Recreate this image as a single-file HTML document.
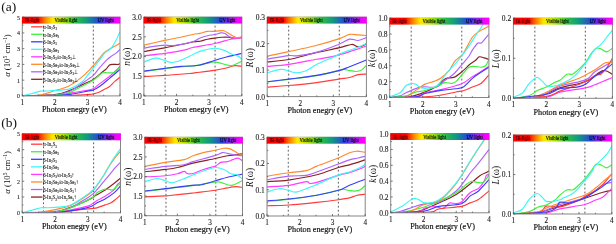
<!DOCTYPE html>
<html><head><meta charset="utf-8"><style>
html,body{margin:0;padding:0;background:#fff;}
svg{display:block;filter:blur(0.35px);font-family:"Liberation Serif",serif;}
</style></head><body>
<svg width="616" height="244" viewBox="0 0 616 244">
<rect width="616" height="244" fill="#fff"/>
<defs><linearGradient id="spec" x1="0" x2="1" y1="0" y2="0"><stop offset="0" stop-color="#ff0000"/><stop offset="0.16" stop-color="#ff0000"/><stop offset="0.23" stop-color="#ff7a00"/><stop offset="0.31" stop-color="#ffea00"/><stop offset="0.42" stop-color="#a8e000"/><stop offset="0.54" stop-color="#30c040"/><stop offset="0.66" stop-color="#109a80"/><stop offset="0.79" stop-color="#2a40e0"/><stop offset="0.89" stop-color="#a020f0"/><stop offset="0.97" stop-color="#ff00ff"/><stop offset="1" stop-color="#ff00ff"/></linearGradient></defs>
<line x1="43.47" y1="23.60" x2="43.47" y2="95.90" stroke="#5a5a5a" stroke-width="1.0" stroke-dasharray="1.8,2.2" stroke-dashoffset="-2.1"/>
<line x1="93.30" y1="23.60" x2="93.30" y2="95.90" stroke="#5a5a5a" stroke-width="1.0" stroke-dasharray="1.8,2.2" stroke-dashoffset="-2.1"/>
<clipPath id="ca1"><rect x="22.30" y="16.20" width="97.70" height="79.70"/></clipPath>
<g clip-path="url(#ca1)">
<path d="M22.30,95.90 C27.73,95.69 46.94,95.56 54.87,94.64 C62.79,93.72 65.34,92.02 69.85,90.39 C74.35,88.76 77.99,86.72 81.90,84.88 C85.81,83.05 89.93,81.47 93.30,79.37 C96.66,77.27 99.92,74.05 102.09,72.29 C104.26,70.53 105.07,70.06 106.32,68.83 C107.57,67.59 108.38,65.63 109.58,64.89 C110.77,64.16 112.02,64.50 113.49,64.42 C114.95,64.34 117.29,64.55 118.37,64.42 C119.46,64.29 119.73,63.76 120.00,63.63" fill="none" stroke="#8a2222" stroke-width="1.15" stroke-linejoin="round"/>
<path d="M22.30,95.90 C27.73,95.74 46.94,95.74 54.87,94.96 C62.79,94.17 65.29,93.12 69.85,91.18 C74.41,89.24 78.31,85.93 82.22,83.31 C86.13,80.68 90.64,77.77 93.30,75.44 C95.95,73.10 96.01,71.82 98.18,69.30 C100.35,66.78 104.15,62.50 106.32,60.33 C108.49,58.15 109.58,57.44 111.21,56.24 C112.84,55.03 114.63,54.24 116.09,53.09 C117.56,51.93 119.35,49.94 120.00,49.31" fill="none" stroke="#ad63ff" stroke-width="1.15" stroke-linejoin="round"/>
<path d="M22.30,95.90 C27.73,95.77 46.94,95.59 54.87,95.11 C62.79,94.64 64.42,93.88 69.85,93.07 C75.28,92.25 83.53,90.94 87.43,90.23 C91.34,89.53 91.34,89.84 93.30,88.82 C95.25,87.79 96.44,86.19 99.16,84.09 C101.87,82.00 106.10,79.16 109.58,76.23 C113.05,73.29 118.26,68.09 120.00,66.47" fill="none" stroke="#ff3cff" stroke-width="1.15" stroke-linejoin="round"/>
<path d="M22.30,95.90 C27.73,95.90 46.94,95.95 54.87,95.90 C62.79,95.85 64.04,95.85 69.85,95.59 C75.66,95.32 85.80,94.61 89.71,94.33 C93.62,94.04 91.67,94.25 93.30,93.85 C94.92,93.46 97.64,92.73 99.48,91.97 C101.33,91.20 102.69,90.21 104.37,89.29 C106.05,88.37 107.84,87.77 109.58,86.46 C111.32,85.14 113.05,82.97 114.79,81.42 C116.53,79.87 119.13,77.88 120.00,77.17" fill="none" stroke="#ff3b3b" stroke-width="1.15" stroke-linejoin="round"/>
<path d="M22.30,95.90 C27.73,95.77 46.94,95.69 54.87,95.11 C62.79,94.54 65.34,93.93 69.85,92.44 C74.35,90.94 77.99,88.19 81.90,86.14 C85.81,84.09 89.93,82.34 93.30,80.16 C96.66,77.98 99.81,74.31 102.09,73.08 C104.37,71.84 105.07,72.81 106.97,72.76 C108.87,72.71 111.86,73.10 113.49,72.76 C115.11,72.42 115.66,71.71 116.74,70.72 C117.83,69.72 119.46,67.44 120.00,66.78" fill="none" stroke="#3ef03e" stroke-width="1.15" stroke-linejoin="round"/>
<path d="M22.30,95.90 C25.01,95.85 33.48,96.37 38.58,95.59 C43.69,94.80 48.03,92.70 52.91,91.18 C57.80,89.66 63.39,88.55 67.89,86.46 C72.40,84.36 76.25,81.45 79.94,78.59 C83.63,75.73 86.73,72.74 90.04,69.30 C93.35,65.86 97.37,60.83 99.81,57.97 C102.25,55.11 102.79,53.80 104.69,52.14 C106.59,50.49 108.66,49.55 111.21,48.05 C113.76,46.56 118.53,43.98 120.00,43.17" fill="none" stroke="#ff8a2a" stroke-width="1.15" stroke-linejoin="round"/>
<path d="M22.30,95.90 C27.73,95.85 46.94,95.85 54.87,95.59 C62.79,95.32 64.42,95.06 69.85,94.33 C75.28,93.59 83.53,91.91 87.43,91.18 C91.34,90.44 91.29,90.71 93.30,89.92 C95.30,89.13 96.82,88.34 99.48,86.46 C102.14,84.57 105.83,81.42 109.25,78.59 C112.67,75.75 118.21,70.98 120.00,69.46" fill="none" stroke="#3c3cff" stroke-width="1.15" stroke-linejoin="round"/>
<path d="M22.30,95.90 C23.93,95.51 29.08,94.33 32.07,93.54 C35.06,92.75 38.04,91.57 40.21,91.18 C42.38,90.78 43.47,91.26 45.10,91.18 C46.72,91.10 47.27,90.89 49.98,90.71 C52.70,90.52 58.07,90.39 61.38,90.08 C64.69,89.76 66.43,90.15 69.85,88.82 C73.27,87.48 78.97,84.28 81.90,82.05 C84.83,79.82 85.70,77.56 87.43,75.44 C89.17,73.31 90.26,71.95 92.32,69.30 C94.38,66.65 97.75,62.24 99.81,59.54 C101.87,56.84 102.79,55.00 104.69,53.09 C106.59,51.17 109.36,50.10 111.21,48.05 C113.05,46.00 114.30,43.54 115.77,40.81 C117.23,38.08 119.29,33.20 120.00,31.68" fill="none" stroke="#3ef5f5" stroke-width="1.15" stroke-linejoin="round"/>
</g>
<rect x="22.30" y="17.20" width="97.70" height="78.70" fill="none" stroke="#858585" stroke-width="1.0"/>
<rect x="22.00" y="16.80" width="98.30" height="6.800000000000001" fill="url(#spec)"/>
<text transform="translate(24.80,22.30) scale(0.8,1)" font-size="5.8" fill="#400" stroke="#400" stroke-width="0.12">IR-light</text>
<text transform="translate(54.54,22.30) scale(0.8,1)" font-size="5.8" fill="#000" stroke="#000" stroke-width="0.12">Visible light</text>
<text transform="translate(97.53,22.30) scale(0.8,1)" font-size="5.8" fill="#000" stroke="#000" stroke-width="0.12">UV light</text>
<line x1="22.30" y1="95.90" x2="22.30" y2="93.90" stroke="#555" stroke-width="0.8"/>
<line x1="38.58" y1="95.90" x2="38.58" y2="94.70" stroke="#555" stroke-width="0.8"/>
<line x1="54.87" y1="95.90" x2="54.87" y2="93.90" stroke="#555" stroke-width="0.8"/>
<line x1="71.15" y1="95.90" x2="71.15" y2="94.70" stroke="#555" stroke-width="0.8"/>
<line x1="87.43" y1="95.90" x2="87.43" y2="93.90" stroke="#555" stroke-width="0.8"/>
<line x1="103.72" y1="95.90" x2="103.72" y2="94.70" stroke="#555" stroke-width="0.8"/>
<line x1="120.00" y1="95.90" x2="120.00" y2="93.90" stroke="#555" stroke-width="0.8"/>
<line x1="22.30" y1="95.90" x2="24.30" y2="95.90" stroke="#555" stroke-width="0.8"/>
<text x="20.10" y="98.30" font-size="6.0" text-anchor="end" fill="#1a1a1a" stroke="#1a1a1a" stroke-width="0.1">0</text>
<line x1="22.30" y1="88.03" x2="23.50" y2="88.03" stroke="#555" stroke-width="0.8"/>
<line x1="22.30" y1="80.16" x2="24.30" y2="80.16" stroke="#555" stroke-width="0.8"/>
<text x="20.10" y="82.56" font-size="6.0" text-anchor="end" fill="#1a1a1a" stroke="#1a1a1a" stroke-width="0.1">1</text>
<line x1="22.30" y1="72.29" x2="23.50" y2="72.29" stroke="#555" stroke-width="0.8"/>
<line x1="22.30" y1="64.42" x2="24.30" y2="64.42" stroke="#555" stroke-width="0.8"/>
<text x="20.10" y="66.82" font-size="6.0" text-anchor="end" fill="#1a1a1a" stroke="#1a1a1a" stroke-width="0.1">2</text>
<line x1="22.30" y1="56.55" x2="23.50" y2="56.55" stroke="#555" stroke-width="0.8"/>
<line x1="22.30" y1="48.68" x2="24.30" y2="48.68" stroke="#555" stroke-width="0.8"/>
<text x="20.10" y="51.08" font-size="6.0" text-anchor="end" fill="#1a1a1a" stroke="#1a1a1a" stroke-width="0.1">3</text>
<line x1="22.30" y1="40.81" x2="23.50" y2="40.81" stroke="#555" stroke-width="0.8"/>
<line x1="22.30" y1="32.94" x2="24.30" y2="32.94" stroke="#555" stroke-width="0.8"/>
<text x="20.10" y="35.34" font-size="6.0" text-anchor="end" fill="#1a1a1a" stroke="#1a1a1a" stroke-width="0.1">4</text>
<line x1="22.30" y1="25.07" x2="23.50" y2="25.07" stroke="#555" stroke-width="0.8"/>
<line x1="22.30" y1="17.20" x2="24.30" y2="17.20" stroke="#555" stroke-width="0.8"/>
<text x="20.10" y="19.60" font-size="6.0" text-anchor="end" fill="#1a1a1a" stroke="#1a1a1a" stroke-width="0.1">5</text>
<text x="22.30" y="104.90" font-size="7.2" text-anchor="middle" fill="#1a1a1a" stroke="#1a1a1a" stroke-width="0.1">1</text>
<text x="54.87" y="104.90" font-size="7.2" text-anchor="middle" fill="#1a1a1a" stroke="#1a1a1a" stroke-width="0.1">2</text>
<text x="87.43" y="104.90" font-size="7.2" text-anchor="middle" fill="#1a1a1a" stroke="#1a1a1a" stroke-width="0.1">3</text>
<text x="120.00" y="104.90" font-size="7.2" text-anchor="middle" fill="#1a1a1a" stroke="#1a1a1a" stroke-width="0.1">4</text>
<text x="74.35" y="112.30" font-size="8.2" text-anchor="middle" fill="#111" stroke="#111" stroke-width="0.18">Photon enegry (eV)</text>
<text transform="translate(10.40,55.55) rotate(-90)" font-size="8.7" text-anchor="middle" fill="#111"><tspan font-style="italic">α</tspan> (10<tspan font-size="5.5" dy="-3.3">5</tspan><tspan dy="3.3"> cm</tspan><tspan font-size="5.5" dy="-3.3">−1</tspan><tspan dy="3.3">)</tspan></text>
<line x1="165.11" y1="23.60" x2="165.11" y2="95.90" stroke="#5a5a5a" stroke-width="1.0" stroke-dasharray="1.8,2.2" stroke-dashoffset="-2.1"/>
<line x1="215.04" y1="23.60" x2="215.04" y2="95.90" stroke="#5a5a5a" stroke-width="1.0" stroke-dasharray="1.8,2.2" stroke-dashoffset="-2.1"/>
<clipPath id="ca2"><rect x="143.90" y="16.20" width="97.90" height="79.70"/></clipPath>
<g clip-path="url(#ca2)">
<path d="M143.90,51.43 C147.38,50.84 156.63,49.47 164.79,47.89 C172.94,46.32 186.98,43.11 192.85,41.99 C198.72,40.88 197.58,41.66 200.03,41.20 C202.48,40.74 205.09,39.76 207.54,39.24 C209.98,38.71 212.32,38.38 214.71,38.06 C217.11,37.73 219.61,37.40 221.89,37.27 C224.18,37.14 226.73,37.14 228.42,37.27 C230.11,37.40 230.60,37.86 232.01,38.06 C233.42,38.25 235.27,38.58 236.91,38.45 C238.54,38.32 240.98,37.47 241.80,37.27" fill="none" stroke="#8a2222" stroke-width="1.15" stroke-linejoin="round"/>
<path d="M143.90,48.29 C145.53,47.96 150.21,46.84 153.69,46.32 C157.17,45.79 161.52,45.27 164.79,45.14 C168.05,45.01 168.76,46.06 173.27,45.53 C177.78,45.01 187.41,43.24 191.87,41.99 C196.33,40.74 197.42,39.10 200.03,38.06 C202.64,37.01 205.09,36.28 207.54,35.69 C209.98,35.10 212.48,34.97 214.71,34.51 C216.94,34.05 219.28,33.14 220.91,32.94 C222.55,32.74 223.04,32.68 224.50,33.33 C225.97,33.99 228.04,36.09 229.73,36.88 C231.41,37.66 233.15,37.92 234.62,38.06 C236.09,38.19 237.34,37.79 238.54,37.66 C239.73,37.53 241.26,37.33 241.80,37.27" fill="none" stroke="#ad63ff" stroke-width="1.15" stroke-linejoin="round"/>
<path d="M143.90,55.76 C147.38,55.37 157.93,54.39 164.79,53.40 C171.64,52.42 180.34,50.84 185.02,49.86 C189.70,48.88 187.90,48.55 192.85,47.50 C197.80,46.45 208.41,44.94 214.71,43.56 C221.02,42.19 226.19,40.15 230.70,39.24 C235.22,38.32 239.95,38.25 241.80,38.06" fill="none" stroke="#ff3cff" stroke-width="1.15" stroke-linejoin="round"/>
<path d="M143.90,76.62 C147.38,76.42 160.43,75.70 164.79,75.44 C169.14,75.18 165.87,75.37 170.01,75.04 C174.14,74.72 185.24,73.86 189.59,73.47 C193.94,73.08 191.98,73.21 196.11,72.68 C200.25,72.16 209.33,71.11 214.39,70.32 C219.45,69.54 223.04,68.75 226.46,67.96 C229.89,67.17 232.39,65.86 234.95,65.60 C237.50,65.34 240.66,66.26 241.80,66.39" fill="none" stroke="#ff3b3b" stroke-width="1.15" stroke-linejoin="round"/>
<path d="M143.90,71.50 C147.38,71.04 158.59,69.54 164.79,68.75 C170.99,67.96 176.42,67.24 181.10,66.78 C185.78,66.32 188.17,66.65 192.85,65.99 C197.53,65.34 205.31,63.50 209.17,62.85 C213.03,62.19 213.14,61.73 216.02,62.06 C218.90,62.39 223.80,64.22 226.46,64.81 C229.13,65.40 229.45,66.19 232.01,65.60 C234.57,65.01 240.17,61.99 241.80,61.27" fill="none" stroke="#3ef03e" stroke-width="1.15" stroke-linejoin="round"/>
<path d="M143.90,45.14 C147.38,44.35 159.35,41.60 164.79,40.42 C170.22,39.24 171.86,39.04 176.53,38.06 C181.21,37.07 188.93,35.30 192.85,34.51 C196.77,33.73 197.58,33.86 200.03,33.33 C202.48,32.81 205.09,31.69 207.54,31.37 C209.98,31.04 212.32,31.50 214.71,31.37 C217.11,31.23 220.26,30.64 221.89,30.58 C223.53,30.51 223.20,30.38 224.50,30.97 C225.81,31.56 228.04,33.14 229.73,34.12 C231.41,35.10 233.42,36.28 234.62,36.88 C235.82,37.47 235.71,37.66 236.91,37.66 C238.10,37.66 240.98,37.01 241.80,36.88" fill="none" stroke="#ff8a2a" stroke-width="1.15" stroke-linejoin="round"/>
<path d="M143.90,71.11 C147.38,70.65 158.59,69.14 164.79,68.36 C170.99,67.57 175.45,66.91 181.10,66.39 C186.76,65.86 193.18,66.19 198.72,65.21 C204.27,64.22 209.76,61.86 214.39,60.49 C219.01,59.11 221.89,58.12 226.46,56.94 C231.03,55.76 239.24,53.99 241.80,53.40" fill="none" stroke="#3c3cff" stroke-width="1.15" stroke-linejoin="round"/>
<path d="M143.90,62.06 C145.86,61.40 152.22,58.39 155.65,58.12 C159.07,57.86 161.74,59.76 164.46,60.49 C167.18,61.21 169.03,62.58 171.96,62.45 C174.90,62.32 178.49,61.08 182.08,59.70 C185.67,58.32 190.13,55.70 193.50,54.19 C196.87,52.68 198.83,51.63 202.31,50.65 C205.79,49.66 210.91,48.42 214.39,48.29 C217.87,48.16 220.26,48.88 223.20,49.86 C226.14,50.84 229.40,53.07 232.01,54.19 C234.62,55.30 237.23,55.63 238.86,56.55 C240.49,57.47 241.31,59.17 241.80,59.70" fill="none" stroke="#3ef5f5" stroke-width="1.15" stroke-linejoin="round"/>
</g>
<rect x="143.90" y="17.20" width="97.90" height="78.70" fill="none" stroke="#858585" stroke-width="1.0"/>
<rect x="143.60" y="16.80" width="98.50" height="6.800000000000001" fill="url(#spec)"/>
<text transform="translate(146.40,22.30) scale(0.8,1)" font-size="5.8" fill="#400" stroke="#400" stroke-width="0.12">IR-light</text>
<text transform="translate(176.21,22.30) scale(0.8,1)" font-size="5.8" fill="#000" stroke="#000" stroke-width="0.12">Visible light</text>
<text transform="translate(219.28,22.30) scale(0.8,1)" font-size="5.8" fill="#000" stroke="#000" stroke-width="0.12">UV light</text>
<line x1="143.90" y1="95.90" x2="143.90" y2="93.90" stroke="#555" stroke-width="0.8"/>
<line x1="160.22" y1="95.90" x2="160.22" y2="94.70" stroke="#555" stroke-width="0.8"/>
<line x1="176.53" y1="95.90" x2="176.53" y2="93.90" stroke="#555" stroke-width="0.8"/>
<line x1="192.85" y1="95.90" x2="192.85" y2="94.70" stroke="#555" stroke-width="0.8"/>
<line x1="209.17" y1="95.90" x2="209.17" y2="93.90" stroke="#555" stroke-width="0.8"/>
<line x1="225.48" y1="95.90" x2="225.48" y2="94.70" stroke="#555" stroke-width="0.8"/>
<line x1="241.80" y1="95.90" x2="241.80" y2="93.90" stroke="#555" stroke-width="0.8"/>
<line x1="143.90" y1="95.90" x2="145.90" y2="95.90" stroke="#555" stroke-width="0.8"/>
<text x="141.70" y="98.83" font-size="7.5" text-anchor="end" fill="#1a1a1a" stroke="#1a1a1a" stroke-width="0.1">1.0</text>
<line x1="143.90" y1="86.06" x2="145.10" y2="86.06" stroke="#555" stroke-width="0.8"/>
<line x1="143.90" y1="76.23" x2="145.90" y2="76.23" stroke="#555" stroke-width="0.8"/>
<text x="141.70" y="79.15" font-size="7.5" text-anchor="end" fill="#1a1a1a" stroke="#1a1a1a" stroke-width="0.1">1.5</text>
<line x1="143.90" y1="66.39" x2="145.10" y2="66.39" stroke="#555" stroke-width="0.8"/>
<line x1="143.90" y1="56.55" x2="145.90" y2="56.55" stroke="#555" stroke-width="0.8"/>
<text x="141.70" y="59.48" font-size="7.5" text-anchor="end" fill="#1a1a1a" stroke="#1a1a1a" stroke-width="0.1">2.0</text>
<line x1="143.90" y1="46.71" x2="145.10" y2="46.71" stroke="#555" stroke-width="0.8"/>
<line x1="143.90" y1="36.88" x2="145.90" y2="36.88" stroke="#555" stroke-width="0.8"/>
<text x="141.70" y="39.80" font-size="7.5" text-anchor="end" fill="#1a1a1a" stroke="#1a1a1a" stroke-width="0.1">2.5</text>
<line x1="143.90" y1="27.04" x2="145.10" y2="27.04" stroke="#555" stroke-width="0.8"/>
<line x1="143.90" y1="17.20" x2="145.90" y2="17.20" stroke="#555" stroke-width="0.8"/>
<text x="141.70" y="20.13" font-size="7.5" text-anchor="end" fill="#1a1a1a" stroke="#1a1a1a" stroke-width="0.1">3.0</text>
<text x="143.90" y="104.90" font-size="7.2" text-anchor="middle" fill="#1a1a1a" stroke="#1a1a1a" stroke-width="0.1">1</text>
<text x="176.53" y="104.90" font-size="7.2" text-anchor="middle" fill="#1a1a1a" stroke="#1a1a1a" stroke-width="0.1">2</text>
<text x="209.17" y="104.90" font-size="7.2" text-anchor="middle" fill="#1a1a1a" stroke="#1a1a1a" stroke-width="0.1">3</text>
<text x="241.80" y="104.90" font-size="7.2" text-anchor="middle" fill="#1a1a1a" stroke="#1a1a1a" stroke-width="0.1">4</text>
<text x="196.25" y="112.30" font-size="8.2" text-anchor="middle" fill="#111" stroke="#111" stroke-width="0.18">Photon enegry (eV)</text>
<text transform="translate(129.60,56.75) rotate(-90)" font-size="9.5" text-anchor="middle" fill="#111"><tspan font-style="italic">n</tspan><tspan dx="0.9">(ω)</tspan></text>
<line x1="288.69" y1="23.60" x2="288.69" y2="96.60" stroke="#5a5a5a" stroke-width="1.0" stroke-dasharray="1.8,2.2" stroke-dashoffset="-2.1"/>
<line x1="339.29" y1="23.60" x2="339.29" y2="96.60" stroke="#5a5a5a" stroke-width="1.0" stroke-dasharray="1.8,2.2" stroke-dashoffset="-2.1"/>
<clipPath id="ca3"><rect x="267.20" y="16.20" width="99.20" height="80.40"/></clipPath>
<g clip-path="url(#ca3)">
<path d="M267.20,61.93 C270.78,61.53 280.70,61.05 288.69,59.55 C296.68,58.05 306.82,54.87 315.15,52.93 C323.47,50.99 332.56,49.31 338.62,47.90 C344.69,46.49 348.54,44.73 351.52,44.46 C354.50,44.20 354.83,46.00 356.48,46.31 C358.13,46.62 359.79,46.75 361.44,46.31 C363.09,45.87 365.57,44.11 366.40,43.67" fill="none" stroke="#8a2222" stroke-width="1.15" stroke-linejoin="round"/>
<path d="M267.20,59.02 C270.78,58.44 283.73,56.11 288.69,55.58 C293.65,55.05 292.55,56.33 296.96,55.84 C301.37,55.36 308.20,54.56 315.15,52.67 C322.09,50.77 332.89,46.71 338.62,44.46 C344.36,42.21 346.28,39.83 349.54,39.17 C352.79,38.51 355.32,40.76 358.13,40.49 C360.94,40.23 365.02,38.06 366.40,37.58" fill="none" stroke="#ad63ff" stroke-width="1.15" stroke-linejoin="round"/>
<path d="M267.20,66.43 C270.78,66.08 280.48,65.50 288.69,64.31 C296.90,63.12 309.03,60.61 316.47,59.28 C323.91,57.96 327.77,57.65 333.33,56.37 C338.90,55.09 344.36,53.33 349.87,51.61 C355.38,49.89 363.64,46.97 366.40,46.05" fill="none" stroke="#ff3cff" stroke-width="1.15" stroke-linejoin="round"/>
<path d="M267.20,87.07 C270.78,86.81 280.48,86.23 288.69,85.48 C296.90,84.73 308.15,83.63 316.47,82.57 C324.79,81.51 333.11,79.97 338.62,79.13 C344.14,78.29 346.28,78.29 349.54,77.54 C352.79,76.79 355.32,75.21 358.13,74.63 C360.94,74.06 365.02,74.19 366.40,74.10" fill="none" stroke="#ff3b3b" stroke-width="1.15" stroke-linejoin="round"/>
<path d="M267.20,82.04 C270.78,81.60 280.48,80.46 288.69,79.40 C296.90,78.34 308.15,77.15 316.47,75.69 C324.79,74.24 333.99,71.72 338.62,70.66 C343.25,69.60 342.43,69.34 344.25,69.34 C346.06,69.34 347.50,70.31 349.54,70.66 C351.58,71.02 354.50,71.54 356.48,71.46 C358.46,71.37 359.79,71.15 361.44,70.13 C363.09,69.12 365.57,66.16 366.40,65.37" fill="none" stroke="#3ef03e" stroke-width="1.15" stroke-linejoin="round"/>
<path d="M267.20,56.11 C270.78,55.36 280.70,53.33 288.69,51.61 C296.68,49.89 306.82,47.90 315.15,45.78 C323.47,43.67 332.89,40.80 338.62,38.90 C344.36,37.01 346.28,35.07 349.54,34.40 C352.79,33.74 355.32,34.76 358.13,34.93 C360.94,35.11 365.02,35.37 366.40,35.46" fill="none" stroke="#ff8a2a" stroke-width="1.15" stroke-linejoin="round"/>
<path d="M267.20,81.78 C270.78,81.34 280.48,80.19 288.69,79.13 C296.90,78.07 308.15,76.84 316.47,75.43 C324.79,74.02 333.11,72.12 338.62,70.66 C344.14,69.21 344.91,68.46 349.54,66.69 C354.17,64.93 363.59,61.18 366.40,60.08" fill="none" stroke="#3c3cff" stroke-width="1.15" stroke-linejoin="round"/>
<path d="M267.20,72.78 C269.46,72.21 277.18,69.65 280.76,69.34 C284.34,69.03 286.16,70.35 288.69,70.93 C291.23,71.50 293.05,72.82 295.97,72.78 C298.89,72.74 302.80,72.03 306.22,70.66 C309.64,69.30 311.56,67.00 316.47,64.58 C321.37,62.15 331.96,57.83 335.65,56.11 C339.34,54.39 335.70,55.44 338.62,54.25 C341.54,53.06 348.54,50.72 353.17,48.96 C357.80,47.20 364.20,44.55 366.40,43.67" fill="none" stroke="#3ef5f5" stroke-width="1.15" stroke-linejoin="round"/>
</g>
<rect x="267.20" y="17.20" width="99.20" height="79.40" fill="none" stroke="#858585" stroke-width="1.0"/>
<rect x="266.90" y="16.80" width="99.80" height="6.800000000000001" fill="url(#spec)"/>
<text transform="translate(269.70,22.30) scale(0.8,1)" font-size="5.8" fill="#400" stroke="#400" stroke-width="0.12">IR-light</text>
<text transform="translate(299.94,22.30) scale(0.8,1)" font-size="5.8" fill="#000" stroke="#000" stroke-width="0.12">Visible light</text>
<text transform="translate(343.58,22.30) scale(0.8,1)" font-size="5.8" fill="#000" stroke="#000" stroke-width="0.12">UV light</text>
<line x1="267.20" y1="96.60" x2="267.20" y2="94.60" stroke="#555" stroke-width="0.8"/>
<line x1="283.73" y1="96.60" x2="283.73" y2="95.40" stroke="#555" stroke-width="0.8"/>
<line x1="300.27" y1="96.60" x2="300.27" y2="94.60" stroke="#555" stroke-width="0.8"/>
<line x1="316.80" y1="96.60" x2="316.80" y2="95.40" stroke="#555" stroke-width="0.8"/>
<line x1="333.33" y1="96.60" x2="333.33" y2="94.60" stroke="#555" stroke-width="0.8"/>
<line x1="349.87" y1="96.60" x2="349.87" y2="95.40" stroke="#555" stroke-width="0.8"/>
<line x1="366.40" y1="96.60" x2="366.40" y2="94.60" stroke="#555" stroke-width="0.8"/>
<line x1="267.20" y1="96.60" x2="269.20" y2="96.60" stroke="#555" stroke-width="0.8"/>
<text x="265.00" y="99.52" font-size="7.5" text-anchor="end" fill="#1a1a1a" stroke="#1a1a1a" stroke-width="0.1">0.0</text>
<line x1="267.20" y1="83.37" x2="268.40" y2="83.37" stroke="#555" stroke-width="0.8"/>
<line x1="267.20" y1="70.13" x2="269.20" y2="70.13" stroke="#555" stroke-width="0.8"/>
<text x="265.00" y="73.06" font-size="7.5" text-anchor="end" fill="#1a1a1a" stroke="#1a1a1a" stroke-width="0.1">0.1</text>
<line x1="267.20" y1="56.90" x2="268.40" y2="56.90" stroke="#555" stroke-width="0.8"/>
<line x1="267.20" y1="43.67" x2="269.20" y2="43.67" stroke="#555" stroke-width="0.8"/>
<text x="265.00" y="46.59" font-size="7.5" text-anchor="end" fill="#1a1a1a" stroke="#1a1a1a" stroke-width="0.1">0.2</text>
<line x1="267.20" y1="30.43" x2="268.40" y2="30.43" stroke="#555" stroke-width="0.8"/>
<line x1="267.20" y1="17.20" x2="269.20" y2="17.20" stroke="#555" stroke-width="0.8"/>
<text x="265.00" y="20.13" font-size="7.5" text-anchor="end" fill="#1a1a1a" stroke="#1a1a1a" stroke-width="0.1">0.3</text>
<text x="267.20" y="105.60" font-size="7.2" text-anchor="middle" fill="#1a1a1a" stroke="#1a1a1a" stroke-width="0.1">1</text>
<text x="300.27" y="105.60" font-size="7.2" text-anchor="middle" fill="#1a1a1a" stroke="#1a1a1a" stroke-width="0.1">2</text>
<text x="333.33" y="105.60" font-size="7.2" text-anchor="middle" fill="#1a1a1a" stroke="#1a1a1a" stroke-width="0.1">3</text>
<text x="366.40" y="105.60" font-size="7.2" text-anchor="middle" fill="#1a1a1a" stroke="#1a1a1a" stroke-width="0.1">4</text>
<text x="319.85" y="113.00" font-size="8.2" text-anchor="middle" fill="#111" stroke="#111" stroke-width="0.18">Photon enegry (eV)</text>
<text transform="translate(252.90,57.80) rotate(-90)" font-size="9.5" text-anchor="middle" fill="#111"><tspan font-style="italic">R</tspan><tspan dx="0.9">(ω)</tspan></text>
<line x1="411.19" y1="24.60" x2="411.19" y2="97.50" stroke="#5a5a5a" stroke-width="1.0" stroke-dasharray="1.8,2.2" stroke-dashoffset="-2.1"/>
<line x1="461.79" y1="24.60" x2="461.79" y2="97.50" stroke="#5a5a5a" stroke-width="1.0" stroke-dasharray="1.8,2.2" stroke-dashoffset="-2.1"/>
<clipPath id="ca4"><rect x="389.70" y="17.20" width="99.20" height="80.30"/></clipPath>
<g clip-path="url(#ca4)">
<path d="M389.70,97.50 C393.01,97.37 403.64,97.63 409.54,96.71 C415.44,95.78 420.40,93.79 425.08,91.95 C429.77,90.11 434.28,87.89 437.65,85.68 C441.01,83.48 442.44,80.13 445.25,78.71 C448.06,77.28 451.42,78.55 454.51,77.12 C457.60,75.69 461.34,72.16 463.77,70.14 C466.19,68.12 467.08,66.63 469.06,64.99 C471.04,63.35 473.96,61.67 475.67,60.31 C477.38,58.95 477.88,57.23 479.31,56.82 C480.74,56.41 482.67,57.41 484.27,57.85 C485.87,58.29 488.13,59.17 488.90,59.44" fill="none" stroke="#8a2222" stroke-width="1.15" stroke-linejoin="round"/>
<path d="M389.70,97.50 C391.41,97.24 397.25,96.71 399.95,95.91 C402.65,95.12 402.93,94.09 405.90,92.74 C408.88,91.39 414.67,88.82 417.81,87.83 C420.95,86.83 422.49,86.89 424.75,86.79 C427.01,86.70 429.16,87.34 431.36,87.27 C433.57,87.20 435.66,87.57 437.98,86.40 C440.29,85.22 442.50,82.41 445.25,80.21 C448.01,78.02 451.64,75.96 454.51,73.23 C457.38,70.51 460.02,66.74 462.45,63.88 C464.87,61.01 467.41,58.33 469.06,56.03 C470.71,53.73 470.93,52.22 472.37,50.08 C473.80,47.94 476.11,44.40 477.66,43.18 C479.20,41.96 479.75,44.30 481.63,42.78 C483.50,41.26 487.69,35.51 488.90,34.06" fill="none" stroke="#ad63ff" stroke-width="1.15" stroke-linejoin="round"/>
<path d="M389.70,97.50 C394.11,97.37 410.26,97.50 416.15,96.71 C422.05,95.91 420.95,93.93 425.08,92.74 C429.21,91.55 435.83,90.75 440.95,89.57 C446.08,88.39 452.03,86.81 455.83,85.68 C459.64,84.56 461.01,84.34 463.77,82.83 C466.52,81.32 469.50,78.53 472.37,76.64 C475.23,74.75 478.21,73.21 480.96,71.49 C483.72,69.77 487.58,67.19 488.90,66.34" fill="none" stroke="#ff3cff" stroke-width="1.15" stroke-linejoin="round"/>
<path d="M389.70,97.50 C395.60,97.37 416.54,97.10 425.08,96.71 C433.62,96.31 435.83,95.91 440.95,95.12 C446.08,94.33 452.03,92.72 455.83,91.95 C459.64,91.18 461.01,91.34 463.77,90.52 C466.52,89.70 469.50,88.20 472.37,87.03 C475.23,85.87 478.21,85.57 480.96,83.54 C483.72,81.52 487.58,76.34 488.90,74.90" fill="none" stroke="#ff3b3b" stroke-width="1.15" stroke-linejoin="round"/>
<path d="M389.70,97.50 C392.46,97.24 401.82,96.84 406.23,95.91 C410.64,94.99 413.01,92.85 416.15,91.95 C419.29,91.05 421.50,91.57 425.08,90.52 C428.66,89.48 434.28,87.01 437.65,85.68 C441.01,84.36 442.99,82.97 445.25,82.59 C447.51,82.21 449.44,83.54 451.20,83.38 C452.97,83.23 453.74,83.45 455.83,81.64 C457.93,79.83 461.56,74.93 463.77,72.52 C465.97,70.12 467.35,68.24 469.06,67.21 C470.77,66.18 472.04,66.34 474.02,66.34 C476.00,66.34 479.04,67.30 480.96,67.21 C482.89,67.11 484.27,67.08 485.59,65.78 C486.92,64.48 488.35,60.49 488.90,59.44" fill="none" stroke="#3ef03e" stroke-width="1.15" stroke-linejoin="round"/>
<path d="M389.70,97.50 C392.18,97.43 401.00,97.76 404.58,97.10 C408.16,96.44 408.55,95.19 411.19,93.53 C413.84,91.88 418.14,88.76 420.45,87.19 C422.77,85.62 422.66,85.13 425.08,84.10 C427.51,83.07 432.36,82.04 435.00,81.01 C437.65,79.97 438.64,79.59 440.95,77.91 C443.27,76.23 446.63,73.66 448.89,70.93 C451.15,68.21 452.58,64.02 454.51,61.58 C456.44,59.13 458.92,57.74 460.46,56.26 C462.01,54.78 461.79,55.87 463.77,52.70 C465.75,49.52 469.78,40.81 472.37,37.23 C474.96,33.65 477.60,32.50 479.31,31.21 C481.02,29.91 481.02,30.31 482.62,29.46 C484.22,28.61 487.85,26.69 488.90,26.13" fill="none" stroke="#ff8a2a" stroke-width="1.15" stroke-linejoin="round"/>
<path d="M389.70,97.50 C394.11,97.37 410.26,97.37 416.15,96.71 C422.05,96.05 420.95,94.59 425.08,93.53 C429.21,92.48 435.83,91.16 440.95,90.36 C446.08,89.57 452.03,89.40 455.83,88.78 C459.64,88.16 461.01,88.37 463.77,86.64 C466.52,84.90 469.50,80.77 472.37,78.39 C475.23,76.01 478.21,74.23 480.96,72.36 C483.72,70.50 487.58,68.07 488.90,67.21" fill="none" stroke="#3c3cff" stroke-width="1.15" stroke-linejoin="round"/>
<path d="M389.70,96.71 C391.41,96.05 397.25,94.57 399.95,92.74 C402.65,90.92 404.03,87.28 405.90,85.76 C407.78,84.24 409.54,83.86 411.19,83.62 C412.85,83.38 414.39,83.72 415.82,84.34 C417.26,84.96 418.47,86.69 419.79,87.35 C421.11,88.01 422.16,88.20 423.76,88.30 C425.36,88.41 427.62,88.17 429.38,87.98 C431.14,87.80 432.69,87.96 434.34,87.19 C435.99,86.42 437.48,85.45 439.30,83.38 C441.12,81.32 442.99,77.67 445.25,74.82 C447.51,71.97 450.65,68.73 452.86,66.26 C455.06,63.78 455.78,63.40 458.48,59.99 C461.18,56.58 466.19,49.88 469.06,45.80 C471.93,41.71 473.41,38.92 475.67,35.49 C477.93,32.05 481.07,27.66 482.62,25.18 C484.16,22.69 484.38,21.74 484.93,20.58 C485.48,19.42 485.76,18.60 485.92,18.20" fill="none" stroke="#3ef5f5" stroke-width="1.15" stroke-linejoin="round"/>
</g>
<rect x="389.70" y="18.20" width="99.20" height="79.30" fill="none" stroke="#858585" stroke-width="1.0"/>
<rect x="389.40" y="17.80" width="99.80" height="6.800000000000001" fill="url(#spec)"/>
<text transform="translate(392.20,23.30) scale(0.8,1)" font-size="5.8" fill="#400" stroke="#400" stroke-width="0.12">IR-light</text>
<text transform="translate(422.44,23.30) scale(0.8,1)" font-size="5.8" fill="#000" stroke="#000" stroke-width="0.12">Visible light</text>
<text transform="translate(466.08,23.30) scale(0.8,1)" font-size="5.8" fill="#000" stroke="#000" stroke-width="0.12">UV light</text>
<line x1="389.70" y1="97.50" x2="389.70" y2="95.50" stroke="#555" stroke-width="0.8"/>
<line x1="406.23" y1="97.50" x2="406.23" y2="96.30" stroke="#555" stroke-width="0.8"/>
<line x1="422.77" y1="97.50" x2="422.77" y2="95.50" stroke="#555" stroke-width="0.8"/>
<line x1="439.30" y1="97.50" x2="439.30" y2="96.30" stroke="#555" stroke-width="0.8"/>
<line x1="455.83" y1="97.50" x2="455.83" y2="95.50" stroke="#555" stroke-width="0.8"/>
<line x1="472.37" y1="97.50" x2="472.37" y2="96.30" stroke="#555" stroke-width="0.8"/>
<line x1="488.90" y1="97.50" x2="488.90" y2="95.50" stroke="#555" stroke-width="0.8"/>
<line x1="389.70" y1="97.50" x2="391.70" y2="97.50" stroke="#555" stroke-width="0.8"/>
<text x="387.50" y="100.42" font-size="7.5" text-anchor="end" fill="#1a1a1a" stroke="#1a1a1a" stroke-width="0.1">0.0</text>
<line x1="389.70" y1="89.57" x2="390.90" y2="89.57" stroke="#555" stroke-width="0.8"/>
<line x1="389.70" y1="81.64" x2="391.70" y2="81.64" stroke="#555" stroke-width="0.8"/>
<text x="387.50" y="84.56" font-size="7.5" text-anchor="end" fill="#1a1a1a" stroke="#1a1a1a" stroke-width="0.1">0.2</text>
<line x1="389.70" y1="73.71" x2="390.90" y2="73.71" stroke="#555" stroke-width="0.8"/>
<line x1="389.70" y1="65.78" x2="391.70" y2="65.78" stroke="#555" stroke-width="0.8"/>
<text x="387.50" y="68.70" font-size="7.5" text-anchor="end" fill="#1a1a1a" stroke="#1a1a1a" stroke-width="0.1">0.4</text>
<line x1="389.70" y1="57.85" x2="390.90" y2="57.85" stroke="#555" stroke-width="0.8"/>
<line x1="389.70" y1="49.92" x2="391.70" y2="49.92" stroke="#555" stroke-width="0.8"/>
<text x="387.50" y="52.84" font-size="7.5" text-anchor="end" fill="#1a1a1a" stroke="#1a1a1a" stroke-width="0.1">0.6</text>
<line x1="389.70" y1="41.99" x2="390.90" y2="41.99" stroke="#555" stroke-width="0.8"/>
<line x1="389.70" y1="34.06" x2="391.70" y2="34.06" stroke="#555" stroke-width="0.8"/>
<text x="387.50" y="36.98" font-size="7.5" text-anchor="end" fill="#1a1a1a" stroke="#1a1a1a" stroke-width="0.1">0.8</text>
<line x1="389.70" y1="26.13" x2="390.90" y2="26.13" stroke="#555" stroke-width="0.8"/>
<line x1="389.70" y1="18.20" x2="391.70" y2="18.20" stroke="#555" stroke-width="0.8"/>
<text x="387.50" y="21.13" font-size="7.5" text-anchor="end" fill="#1a1a1a" stroke="#1a1a1a" stroke-width="0.1">1.0</text>
<text x="389.70" y="106.50" font-size="7.2" text-anchor="middle" fill="#1a1a1a" stroke="#1a1a1a" stroke-width="0.1">1</text>
<text x="422.77" y="106.50" font-size="7.2" text-anchor="middle" fill="#1a1a1a" stroke="#1a1a1a" stroke-width="0.1">2</text>
<text x="455.83" y="106.50" font-size="7.2" text-anchor="middle" fill="#1a1a1a" stroke="#1a1a1a" stroke-width="0.1">3</text>
<text x="488.90" y="106.50" font-size="7.2" text-anchor="middle" fill="#1a1a1a" stroke="#1a1a1a" stroke-width="0.1">4</text>
<text x="442.15" y="113.90" font-size="8.2" text-anchor="middle" fill="#111" stroke="#111" stroke-width="0.18">Photon enegry (eV)</text>
<text transform="translate(375.40,58.45) rotate(-90)" font-size="9.5" text-anchor="middle" fill="#111"><tspan font-style="italic">k</tspan><tspan dx="0.9">(ω)</tspan></text>
<line x1="534.85" y1="24.60" x2="534.85" y2="98.30" stroke="#5a5a5a" stroke-width="1.0" stroke-dasharray="1.8,2.2" stroke-dashoffset="-2.1"/>
<line x1="585.34" y1="24.60" x2="585.34" y2="98.30" stroke="#5a5a5a" stroke-width="1.0" stroke-dasharray="1.8,2.2" stroke-dashoffset="-2.1"/>
<clipPath id="ca5"><rect x="513.40" y="17.20" width="99.00" height="81.10"/></clipPath>
<g clip-path="url(#ca5)">
<path d="M513.40,98.30 C517.80,97.97 532.04,98.03 539.80,96.30 C547.55,94.56 552.28,90.36 559.93,87.89 C567.57,85.42 578.52,84.35 585.67,81.48 C592.82,78.61 598.37,71.87 602.83,70.67 C607.28,69.46 610.80,73.67 612.40,74.27" fill="none" stroke="#8a2222" stroke-width="1.15" stroke-linejoin="round"/>
<path d="M513.40,98.30 C517.80,97.97 532.04,98.30 539.80,96.30 C547.55,94.30 552.28,89.02 559.93,86.28 C567.57,83.55 579.95,82.21 585.67,79.88 C591.39,77.54 591.39,74.40 594.25,72.27 C597.11,70.13 599.80,68.86 602.83,67.06 C605.85,65.26 610.80,62.39 612.40,61.45" fill="none" stroke="#ad63ff" stroke-width="1.15" stroke-linejoin="round"/>
<path d="M513.40,98.30 C518.90,98.10 538.64,98.10 546.40,97.10 C554.15,96.10 553.38,93.83 559.93,92.29 C566.47,90.76 579.95,89.09 585.67,87.89 C591.39,86.69 591.39,86.15 594.25,85.08 C597.11,84.02 599.80,82.75 602.83,81.48 C605.85,80.21 610.80,78.14 612.40,77.47" fill="none" stroke="#ff3cff" stroke-width="1.15" stroke-linejoin="round"/>
<path d="M513.40,98.30 C518.90,97.97 538.64,97.50 546.40,96.30 C554.15,95.10 554.81,92.96 559.93,91.09 C565.04,89.22 572.80,86.69 577.09,85.08 C581.38,83.48 582.48,83.15 585.67,81.48 C588.86,79.81 593.70,76.27 596.23,75.07 C598.76,73.87 599.14,75.40 600.85,74.27 C602.56,73.14 604.53,70.93 606.46,68.26 C608.38,65.59 611.41,59.92 612.40,58.25" fill="none" stroke="#ff3b3b" stroke-width="1.15" stroke-linejoin="round"/>
<path d="M513.40,98.30 C516.04,97.83 525.17,96.83 529.24,95.50 C533.31,94.16 534.96,91.69 537.82,90.29 C540.68,88.89 543.54,88.42 546.40,87.09 C549.26,85.75 552.73,83.41 554.98,82.28 C557.24,81.15 557.95,81.61 559.93,80.28 C561.91,78.94 564.83,75.27 566.86,74.27 C568.89,73.27 570.43,74.87 572.14,74.27 C573.85,73.67 574.84,72.67 577.09,70.67 C579.35,68.66 583.41,64.99 585.67,62.26 C587.92,59.52 588.86,56.58 590.62,54.25 C592.38,51.91 594.47,49.11 596.23,48.24 C597.99,47.37 599.47,48.44 601.18,49.04 C602.88,49.64 604.59,51.98 606.46,51.84 C608.33,51.71 611.41,48.84 612.40,48.24" fill="none" stroke="#3ef03e" stroke-width="1.15" stroke-linejoin="round"/>
<path d="M513.40,98.30 C516.70,98.10 527.70,98.10 533.20,97.10 C538.70,96.10 541.94,94.30 546.40,92.29 C550.86,90.29 554.81,87.29 559.93,85.08 C565.04,82.88 572.80,80.74 577.09,79.08 C581.38,77.41 582.48,76.74 585.67,75.07 C588.86,73.40 593.04,71.07 596.23,69.06 C599.42,67.06 602.50,64.19 604.81,63.06 C607.12,61.92 608.82,62.26 610.09,62.26 C611.35,62.26 612.01,62.92 612.40,63.06" fill="none" stroke="#ff8a2a" stroke-width="1.15" stroke-linejoin="round"/>
<path d="M513.40,98.30 C518.90,97.63 538.64,95.90 546.40,94.30 C554.15,92.69 554.81,89.89 559.93,88.69 C565.04,87.49 572.80,87.82 577.09,87.09 C581.38,86.35 582.81,86.02 585.67,84.28 C588.53,82.55 591.39,78.81 594.25,76.67 C597.11,74.54 599.80,73.60 602.83,71.47 C605.85,69.33 610.80,65.13 612.40,63.86" fill="none" stroke="#3c3cff" stroke-width="1.15" stroke-linejoin="round"/>
<path d="M513.40,97.10 C514.88,96.43 519.67,95.36 522.31,93.09 C524.95,90.82 526.82,86.08 529.24,83.48 C531.66,80.88 534.68,77.87 536.83,77.47 C538.97,77.07 540.51,79.74 542.11,81.08 C543.71,82.41 544.53,84.62 546.40,85.48 C548.27,86.35 550.47,86.75 553.33,86.28 C556.19,85.82 560.15,84.28 563.56,82.68 C566.97,81.08 570.11,79.94 573.79,76.67 C577.47,73.40 582.26,67.46 585.67,63.06 C589.08,58.65 591.66,53.38 594.25,50.24 C596.84,47.10 598.87,46.70 601.18,44.23 C603.49,41.76 606.24,37.76 608.11,35.42 C609.98,33.09 611.68,31.08 612.40,30.22" fill="none" stroke="#3ef5f5" stroke-width="1.15" stroke-linejoin="round"/>
</g>
<rect x="513.40" y="18.20" width="99.00" height="80.10" fill="none" stroke="#858585" stroke-width="1.0"/>
<rect x="513.10" y="17.80" width="99.60" height="6.800000000000001" fill="url(#spec)"/>
<text transform="translate(515.90,23.30) scale(0.8,1)" font-size="5.8" fill="#400" stroke="#400" stroke-width="0.12">IR-light</text>
<text transform="translate(546.07,23.30) scale(0.8,1)" font-size="5.8" fill="#000" stroke="#000" stroke-width="0.12">Visible light</text>
<text transform="translate(589.63,23.30) scale(0.8,1)" font-size="5.8" fill="#000" stroke="#000" stroke-width="0.12">UV light</text>
<line x1="513.40" y1="98.30" x2="513.40" y2="96.30" stroke="#555" stroke-width="0.8"/>
<line x1="529.90" y1="98.30" x2="529.90" y2="97.10" stroke="#555" stroke-width="0.8"/>
<line x1="546.40" y1="98.30" x2="546.40" y2="96.30" stroke="#555" stroke-width="0.8"/>
<line x1="562.90" y1="98.30" x2="562.90" y2="97.10" stroke="#555" stroke-width="0.8"/>
<line x1="579.40" y1="98.30" x2="579.40" y2="96.30" stroke="#555" stroke-width="0.8"/>
<line x1="595.90" y1="98.30" x2="595.90" y2="97.10" stroke="#555" stroke-width="0.8"/>
<line x1="612.40" y1="98.30" x2="612.40" y2="96.30" stroke="#555" stroke-width="0.8"/>
<line x1="513.40" y1="98.30" x2="515.40" y2="98.30" stroke="#555" stroke-width="0.8"/>
<text x="511.20" y="101.22" font-size="7.5" text-anchor="end" fill="#1a1a1a" stroke="#1a1a1a" stroke-width="0.1">0.0</text>
<line x1="513.40" y1="78.28" x2="514.60" y2="78.28" stroke="#555" stroke-width="0.8"/>
<line x1="513.40" y1="58.25" x2="515.40" y2="58.25" stroke="#555" stroke-width="0.8"/>
<text x="511.20" y="61.17" font-size="7.5" text-anchor="end" fill="#1a1a1a" stroke="#1a1a1a" stroke-width="0.1">0.1</text>
<line x1="513.40" y1="38.23" x2="514.60" y2="38.23" stroke="#555" stroke-width="0.8"/>
<line x1="513.40" y1="18.20" x2="515.40" y2="18.20" stroke="#555" stroke-width="0.8"/>
<text x="511.20" y="21.13" font-size="7.5" text-anchor="end" fill="#1a1a1a" stroke="#1a1a1a" stroke-width="0.1">0.2</text>
<text x="513.40" y="107.30" font-size="7.2" text-anchor="middle" fill="#1a1a1a" stroke="#1a1a1a" stroke-width="0.1">1</text>
<text x="546.40" y="107.30" font-size="7.2" text-anchor="middle" fill="#1a1a1a" stroke="#1a1a1a" stroke-width="0.1">2</text>
<text x="579.40" y="107.30" font-size="7.2" text-anchor="middle" fill="#1a1a1a" stroke="#1a1a1a" stroke-width="0.1">3</text>
<text x="612.40" y="107.30" font-size="7.2" text-anchor="middle" fill="#1a1a1a" stroke="#1a1a1a" stroke-width="0.1">4</text>
<text x="565.85" y="114.70" font-size="8.2" text-anchor="middle" fill="#111" stroke="#111" stroke-width="0.18">Photon enegry (eV)</text>
<text transform="translate(499.10,58.85) rotate(-90)" font-size="9.5" text-anchor="middle" fill="#111"><tspan font-style="italic">L</tspan><tspan dx="0.9">(ω)</tspan></text>
<line x1="43.50" y1="140.30" x2="43.50" y2="212.80" stroke="#5a5a5a" stroke-width="1.0" stroke-dasharray="1.8,2.2" stroke-dashoffset="-2.1"/>
<line x1="93.63" y1="140.30" x2="93.63" y2="212.80" stroke="#5a5a5a" stroke-width="1.0" stroke-dasharray="1.8,2.2" stroke-dashoffset="-2.1"/>
<clipPath id="cb1"><rect x="22.20" y="132.90" width="98.30" height="79.90"/></clipPath>
<g clip-path="url(#cb1)">
<path d="M22.20,212.80 C27.66,212.64 46.99,212.75 54.97,211.85 C62.94,210.96 65.12,209.12 70.04,207.43 C74.95,205.75 80.63,203.44 84.46,201.75 C88.28,200.07 91.06,198.41 92.98,197.34 C94.89,196.26 93.90,196.52 95.92,195.28 C97.95,194.05 102.10,191.89 105.10,189.92 C108.10,187.95 111.38,185.42 113.95,183.45 C116.51,181.48 119.41,178.98 120.50,178.08" fill="none" stroke="#8a2222" stroke-width="1.15" stroke-linejoin="round"/>
<path d="M22.20,212.80 C27.66,212.59 46.99,212.33 54.97,211.54 C62.94,210.75 65.51,209.83 70.04,208.07 C74.57,206.30 78.34,203.33 82.16,200.97 C85.99,198.60 89.32,197.18 92.98,193.86 C96.63,190.55 101.28,184.37 104.12,181.08 C106.96,177.79 108.16,176.37 110.01,174.14 C111.87,171.90 113.51,169.64 115.26,167.67 C117.00,165.70 119.63,163.20 120.50,162.30" fill="none" stroke="#ad63ff" stroke-width="1.15" stroke-linejoin="round"/>
<path d="M22.20,212.80 C27.66,212.69 46.99,212.64 54.97,212.17 C62.94,211.70 64.58,210.96 70.04,209.96 C75.50,208.96 83.91,207.28 87.73,206.17 C91.56,205.07 91.34,204.33 92.98,203.33 C94.61,202.33 95.54,201.36 97.56,200.18 C99.58,198.99 102.37,197.94 105.10,196.23 C107.83,194.52 111.87,191.89 113.95,189.92 C116.02,187.95 116.46,185.71 117.55,184.40 C118.64,183.08 120.01,182.42 120.50,182.03" fill="none" stroke="#ff3cff" stroke-width="1.15" stroke-linejoin="round"/>
<path d="M22.20,212.80 C27.66,212.80 46.99,213.12 54.97,212.80 C62.94,212.48 63.70,211.64 70.04,210.91 C76.37,210.17 88.39,208.93 92.98,208.38 C97.56,207.83 95.54,208.17 97.56,207.59 C99.58,207.01 102.92,205.67 105.10,204.91 C107.28,204.15 108.92,203.94 110.67,203.02 C112.42,202.10 113.95,200.73 115.59,199.39 C117.22,198.05 119.68,195.71 120.50,194.97" fill="none" stroke="#ff3b3b" stroke-width="1.15" stroke-linejoin="round"/>
<path d="M22.20,212.80 C27.66,212.67 46.99,212.80 54.97,212.01 C62.94,211.22 65.12,209.78 70.04,208.07 C74.95,206.36 80.63,203.60 84.46,201.75 C88.28,199.91 90.79,198.60 92.98,197.02 C95.16,195.44 95.98,193.47 97.56,192.29 C99.15,191.10 100.95,190.47 102.48,189.92 C104.01,189.37 105.10,188.97 106.74,188.97 C108.38,188.97 110.78,190.23 112.31,189.92 C113.84,189.60 114.55,188.13 115.91,187.08 C117.28,186.03 119.74,184.19 120.50,183.61" fill="none" stroke="#3ef03e" stroke-width="1.15" stroke-linejoin="round"/>
<path d="M22.20,212.80 C24.93,212.75 33.12,213.01 38.58,212.48 C44.04,211.96 49.72,210.77 54.97,209.64 C60.21,208.51 65.67,207.41 70.04,205.70 C74.41,203.99 77.36,201.89 81.18,199.39 C85.00,196.89 89.21,194.73 92.98,190.71 C96.74,186.68 101.60,178.53 103.79,175.24 C105.97,171.96 104.39,173.67 106.08,170.98 C107.78,168.30 111.54,162.44 113.95,159.15 C116.35,155.86 119.41,152.57 120.50,151.26" fill="none" stroke="#ff8a2a" stroke-width="1.15" stroke-linejoin="round"/>
<path d="M22.20,212.80 C27.66,212.75 46.99,212.80 54.97,212.48 C62.94,212.17 64.58,211.72 70.04,210.91 C75.50,210.09 83.91,208.49 87.73,207.59 C91.56,206.70 91.34,206.38 92.98,205.54 C94.61,204.70 95.54,203.65 97.56,202.54 C99.58,201.44 102.37,200.52 105.10,198.91 C107.83,197.31 111.38,195.07 113.95,192.92 C116.51,190.76 119.41,187.13 120.50,185.97" fill="none" stroke="#3c3cff" stroke-width="1.15" stroke-linejoin="round"/>
<path d="M22.20,212.80 C23.95,212.33 29.52,210.80 32.69,209.96 C35.85,209.12 38.58,208.12 41.20,207.75 C43.83,207.38 45.52,207.86 48.41,207.75 C51.31,207.65 54.97,207.54 58.57,207.12 C62.18,206.70 66.33,206.59 70.04,205.23 C73.75,203.86 77.03,201.46 80.85,198.91 C84.68,196.36 89.37,193.55 92.98,189.92 C96.58,186.29 100.29,180.16 102.48,177.14 C104.66,174.11 104.55,174.38 106.08,171.77 C107.61,169.17 109.25,165.38 111.65,161.52 C114.06,157.65 119.03,150.73 120.50,148.58" fill="none" stroke="#3ef5f5" stroke-width="1.15" stroke-linejoin="round"/>
</g>
<rect x="22.20" y="133.90" width="98.30" height="78.90" fill="none" stroke="#858585" stroke-width="1.0"/>
<rect x="21.90" y="133.50" width="98.90" height="6.800000000000001" fill="url(#spec)"/>
<text transform="translate(24.70,139.00) scale(0.8,1)" font-size="5.8" fill="#400" stroke="#400" stroke-width="0.12">IR-light</text>
<text transform="translate(54.64,139.00) scale(0.8,1)" font-size="5.8" fill="#000" stroke="#000" stroke-width="0.12">Visible light</text>
<text transform="translate(97.89,139.00) scale(0.8,1)" font-size="5.8" fill="#000" stroke="#000" stroke-width="0.12">UV light</text>
<line x1="22.20" y1="212.80" x2="22.20" y2="210.80" stroke="#555" stroke-width="0.8"/>
<line x1="38.58" y1="212.80" x2="38.58" y2="211.60" stroke="#555" stroke-width="0.8"/>
<line x1="54.97" y1="212.80" x2="54.97" y2="210.80" stroke="#555" stroke-width="0.8"/>
<line x1="71.35" y1="212.80" x2="71.35" y2="211.60" stroke="#555" stroke-width="0.8"/>
<line x1="87.73" y1="212.80" x2="87.73" y2="210.80" stroke="#555" stroke-width="0.8"/>
<line x1="104.12" y1="212.80" x2="104.12" y2="211.60" stroke="#555" stroke-width="0.8"/>
<line x1="120.50" y1="212.80" x2="120.50" y2="210.80" stroke="#555" stroke-width="0.8"/>
<line x1="22.20" y1="212.80" x2="24.20" y2="212.80" stroke="#555" stroke-width="0.8"/>
<text x="20.00" y="215.20" font-size="6.0" text-anchor="end" fill="#1a1a1a" stroke="#1a1a1a" stroke-width="0.1">0</text>
<line x1="22.20" y1="204.91" x2="23.40" y2="204.91" stroke="#555" stroke-width="0.8"/>
<line x1="22.20" y1="197.02" x2="24.20" y2="197.02" stroke="#555" stroke-width="0.8"/>
<text x="20.00" y="199.42" font-size="6.0" text-anchor="end" fill="#1a1a1a" stroke="#1a1a1a" stroke-width="0.1">1</text>
<line x1="22.20" y1="189.13" x2="23.40" y2="189.13" stroke="#555" stroke-width="0.8"/>
<line x1="22.20" y1="181.24" x2="24.20" y2="181.24" stroke="#555" stroke-width="0.8"/>
<text x="20.00" y="183.64" font-size="6.0" text-anchor="end" fill="#1a1a1a" stroke="#1a1a1a" stroke-width="0.1">2</text>
<line x1="22.20" y1="173.35" x2="23.40" y2="173.35" stroke="#555" stroke-width="0.8"/>
<line x1="22.20" y1="165.46" x2="24.20" y2="165.46" stroke="#555" stroke-width="0.8"/>
<text x="20.00" y="167.86" font-size="6.0" text-anchor="end" fill="#1a1a1a" stroke="#1a1a1a" stroke-width="0.1">3</text>
<line x1="22.20" y1="157.57" x2="23.40" y2="157.57" stroke="#555" stroke-width="0.8"/>
<line x1="22.20" y1="149.68" x2="24.20" y2="149.68" stroke="#555" stroke-width="0.8"/>
<text x="20.00" y="152.08" font-size="6.0" text-anchor="end" fill="#1a1a1a" stroke="#1a1a1a" stroke-width="0.1">4</text>
<line x1="22.20" y1="141.79" x2="23.40" y2="141.79" stroke="#555" stroke-width="0.8"/>
<line x1="22.20" y1="133.90" x2="24.20" y2="133.90" stroke="#555" stroke-width="0.8"/>
<text x="20.00" y="136.30" font-size="6.0" text-anchor="end" fill="#1a1a1a" stroke="#1a1a1a" stroke-width="0.1">5</text>
<text x="22.20" y="221.80" font-size="7.2" text-anchor="middle" fill="#1a1a1a" stroke="#1a1a1a" stroke-width="0.1">1</text>
<text x="54.97" y="221.80" font-size="7.2" text-anchor="middle" fill="#1a1a1a" stroke="#1a1a1a" stroke-width="0.1">2</text>
<text x="87.73" y="221.80" font-size="7.2" text-anchor="middle" fill="#1a1a1a" stroke="#1a1a1a" stroke-width="0.1">3</text>
<text x="120.50" y="221.80" font-size="7.2" text-anchor="middle" fill="#1a1a1a" stroke="#1a1a1a" stroke-width="0.1">4</text>
<text x="74.35" y="229.20" font-size="8.2" text-anchor="middle" fill="#111" stroke="#111" stroke-width="0.18">Photon enegry (eV)</text>
<text transform="translate(10.30,172.35) rotate(-90)" font-size="8.7" text-anchor="middle" fill="#111"><tspan font-style="italic">α</tspan> (10<tspan font-size="5.5" dy="-3.3">5</tspan><tspan dy="3.3"> cm</tspan><tspan font-size="5.5" dy="-3.3">−1</tspan><tspan dy="3.3">)</tspan></text>
<line x1="165.97" y1="143.70" x2="165.97" y2="215.70" stroke="#5a5a5a" stroke-width="1.0" stroke-dasharray="1.8,2.2" stroke-dashoffset="-2.1"/>
<line x1="215.80" y1="143.70" x2="215.80" y2="215.70" stroke="#5a5a5a" stroke-width="1.0" stroke-dasharray="1.8,2.2" stroke-dashoffset="-2.1"/>
<clipPath id="cb2"><rect x="144.80" y="136.30" width="97.70" height="79.40"/></clipPath>
<g clip-path="url(#cb2)">
<path d="M144.80,171.80 C148.22,171.40 159.89,170.16 165.32,169.44 C170.74,168.73 172.75,168.53 177.37,167.48 C181.98,166.44 186.65,164.67 193.00,163.17 C199.35,161.67 209.72,159.71 215.47,158.47 C221.22,157.23 223.77,156.38 227.52,155.72 C231.26,155.07 235.44,154.87 237.94,154.55 C240.44,154.22 241.74,153.89 242.50,153.76" fill="none" stroke="#8a2222" stroke-width="1.15" stroke-linejoin="round"/>
<path d="M144.80,169.44 C148.22,168.92 158.80,167.09 165.32,166.31 C171.83,165.52 179.27,165.52 183.88,164.74 C188.49,163.96 187.73,163.17 193.00,161.60 C198.26,160.04 210.58,156.83 215.47,155.33 C220.35,153.83 220.30,152.91 222.31,152.59 C224.32,152.26 225.51,152.98 227.52,153.37 C229.53,153.76 231.86,154.55 234.36,154.94 C236.86,155.33 241.14,155.59 242.50,155.72" fill="none" stroke="#ad63ff" stroke-width="1.15" stroke-linejoin="round"/>
<path d="M144.80,176.89 C148.22,176.70 159.89,176.24 165.32,175.72 C170.74,175.19 174.22,174.47 177.37,173.76 C180.51,173.04 182.47,171.40 184.21,171.40 C185.94,171.40 186.05,173.49 187.79,173.76 C189.52,174.02 192.02,173.69 194.63,172.97 C197.23,172.25 199.95,170.62 203.42,169.44 C206.89,168.27 212.59,167.09 215.47,165.92 C218.35,164.74 218.67,163.11 220.68,162.39 C222.69,161.67 225.51,162.06 227.52,161.60 C229.53,161.15 230.99,160.23 232.73,159.64 C234.47,159.06 236.31,157.88 237.94,158.08 C239.57,158.27 241.74,160.36 242.50,160.82" fill="none" stroke="#ff3cff" stroke-width="1.15" stroke-linejoin="round"/>
<path d="M144.80,196.88 C148.22,196.72 161.14,196.13 165.32,195.90 C169.50,195.68 165.75,195.94 169.88,195.51 C174.00,195.09 185.56,193.85 190.07,193.36 C194.57,192.87 192.67,193.09 196.91,192.57 C201.14,192.05 210.37,191.00 215.47,190.22 C220.57,189.44 224.05,188.46 227.52,187.87 C230.99,187.28 233.82,186.76 236.31,186.69 C238.81,186.63 241.47,187.35 242.50,187.48" fill="none" stroke="#ff3b3b" stroke-width="1.15" stroke-linejoin="round"/>
<path d="M144.80,191.40 C148.22,191.00 159.89,189.70 165.32,189.04 C170.74,188.39 172.48,188.06 177.37,187.48 C182.25,186.89 188.28,186.43 194.63,185.52 C200.98,184.60 211.13,182.51 215.47,181.99 C219.81,181.47 218.67,181.92 220.68,182.38 C222.69,182.84 225.51,184.27 227.52,184.73 C229.53,185.19 230.23,185.84 232.73,185.12 C235.23,184.41 240.87,181.20 242.50,180.42" fill="none" stroke="#3ef03e" stroke-width="1.15" stroke-linejoin="round"/>
<path d="M144.80,166.31 C148.22,165.65 158.75,163.50 165.32,162.39 C171.88,161.28 179.59,160.75 184.21,159.64 C188.82,158.53 189.80,156.90 193.00,155.72 C196.20,154.55 199.67,153.50 203.42,152.59 C207.17,151.67 212.05,150.95 215.47,150.24 C218.89,149.52 221.66,148.54 223.94,148.28 C226.22,148.01 227.41,148.21 229.15,148.67 C230.88,149.13 232.78,150.17 234.36,151.02 C235.93,151.87 237.24,153.11 238.59,153.76 C239.95,154.42 241.85,154.74 242.50,154.94" fill="none" stroke="#ff8a2a" stroke-width="1.15" stroke-linejoin="round"/>
<path d="M144.80,191.00 C148.22,190.61 159.89,189.31 165.32,188.65 C170.74,188.00 172.48,187.67 177.37,187.08 C182.25,186.50 190.61,185.52 194.63,185.12 C198.64,184.73 197.99,185.45 201.47,184.73 C204.94,184.01 211.13,182.05 215.47,180.81 C219.81,179.57 223.01,178.39 227.52,177.28 C232.02,176.17 240.00,174.67 242.50,174.15" fill="none" stroke="#3c3cff" stroke-width="1.15" stroke-linejoin="round"/>
<path d="M144.80,181.60 C146.81,181.07 153.43,178.59 156.85,178.46 C160.27,178.33 162.77,180.09 165.32,180.81 C167.87,181.53 169.28,183.03 172.16,182.77 C175.03,182.51 179.10,180.55 182.58,179.24 C186.05,177.94 189.52,176.30 193.00,174.93 C196.47,173.56 199.67,172.25 203.42,171.01 C207.17,169.77 212.05,167.75 215.47,167.48 C218.89,167.22 221.39,168.40 223.94,169.44 C226.49,170.49 228.71,172.91 230.78,173.76 C232.84,174.61 234.90,174.08 236.31,174.54 C237.72,175.00 238.21,175.78 239.24,176.50 C240.27,177.22 241.96,178.46 242.50,178.85" fill="none" stroke="#3ef5f5" stroke-width="1.15" stroke-linejoin="round"/>
</g>
<rect x="144.80" y="137.30" width="97.70" height="78.40" fill="none" stroke="#858585" stroke-width="1.0"/>
<rect x="144.50" y="136.90" width="98.30" height="6.800000000000001" fill="url(#spec)"/>
<text transform="translate(147.30,142.40) scale(0.8,1)" font-size="5.8" fill="#400" stroke="#400" stroke-width="0.12">IR-light</text>
<text transform="translate(177.04,142.40) scale(0.8,1)" font-size="5.8" fill="#000" stroke="#000" stroke-width="0.12">Visible light</text>
<text transform="translate(220.03,142.40) scale(0.8,1)" font-size="5.8" fill="#000" stroke="#000" stroke-width="0.12">UV light</text>
<line x1="144.80" y1="215.70" x2="144.80" y2="213.70" stroke="#555" stroke-width="0.8"/>
<line x1="161.08" y1="215.70" x2="161.08" y2="214.50" stroke="#555" stroke-width="0.8"/>
<line x1="177.37" y1="215.70" x2="177.37" y2="213.70" stroke="#555" stroke-width="0.8"/>
<line x1="193.65" y1="215.70" x2="193.65" y2="214.50" stroke="#555" stroke-width="0.8"/>
<line x1="209.93" y1="215.70" x2="209.93" y2="213.70" stroke="#555" stroke-width="0.8"/>
<line x1="226.22" y1="215.70" x2="226.22" y2="214.50" stroke="#555" stroke-width="0.8"/>
<line x1="242.50" y1="215.70" x2="242.50" y2="213.70" stroke="#555" stroke-width="0.8"/>
<line x1="144.80" y1="215.70" x2="146.80" y2="215.70" stroke="#555" stroke-width="0.8"/>
<text x="142.60" y="218.62" font-size="7.5" text-anchor="end" fill="#1a1a1a" stroke="#1a1a1a" stroke-width="0.1">1.0</text>
<line x1="144.80" y1="205.90" x2="146.00" y2="205.90" stroke="#555" stroke-width="0.8"/>
<line x1="144.80" y1="196.10" x2="146.80" y2="196.10" stroke="#555" stroke-width="0.8"/>
<text x="142.60" y="199.03" font-size="7.5" text-anchor="end" fill="#1a1a1a" stroke="#1a1a1a" stroke-width="0.1">1.5</text>
<line x1="144.80" y1="186.30" x2="146.00" y2="186.30" stroke="#555" stroke-width="0.8"/>
<line x1="144.80" y1="176.50" x2="146.80" y2="176.50" stroke="#555" stroke-width="0.8"/>
<text x="142.60" y="179.43" font-size="7.5" text-anchor="end" fill="#1a1a1a" stroke="#1a1a1a" stroke-width="0.1">2.0</text>
<line x1="144.80" y1="166.70" x2="146.00" y2="166.70" stroke="#555" stroke-width="0.8"/>
<line x1="144.80" y1="156.90" x2="146.80" y2="156.90" stroke="#555" stroke-width="0.8"/>
<text x="142.60" y="159.83" font-size="7.5" text-anchor="end" fill="#1a1a1a" stroke="#1a1a1a" stroke-width="0.1">2.5</text>
<line x1="144.80" y1="147.10" x2="146.00" y2="147.10" stroke="#555" stroke-width="0.8"/>
<line x1="144.80" y1="137.30" x2="146.80" y2="137.30" stroke="#555" stroke-width="0.8"/>
<text x="142.60" y="140.23" font-size="7.5" text-anchor="end" fill="#1a1a1a" stroke="#1a1a1a" stroke-width="0.1">3.0</text>
<text x="144.80" y="224.70" font-size="7.2" text-anchor="middle" fill="#1a1a1a" stroke="#1a1a1a" stroke-width="0.1">1</text>
<text x="177.37" y="224.70" font-size="7.2" text-anchor="middle" fill="#1a1a1a" stroke="#1a1a1a" stroke-width="0.1">2</text>
<text x="209.93" y="224.70" font-size="7.2" text-anchor="middle" fill="#1a1a1a" stroke="#1a1a1a" stroke-width="0.1">3</text>
<text x="242.50" y="224.70" font-size="7.2" text-anchor="middle" fill="#1a1a1a" stroke="#1a1a1a" stroke-width="0.1">4</text>
<text x="197.35" y="232.10" font-size="8.2" text-anchor="middle" fill="#111" stroke="#111" stroke-width="0.18">Photon enegry (eV)</text>
<text transform="translate(130.50,176.70) rotate(-90)" font-size="9.5" text-anchor="middle" fill="#111"><tspan font-style="italic">n</tspan><tspan dx="0.9">(ω)</tspan></text>
<line x1="288.28" y1="143.70" x2="288.28" y2="216.00" stroke="#5a5a5a" stroke-width="1.0" stroke-dasharray="1.8,2.2" stroke-dashoffset="-2.1"/>
<line x1="338.36" y1="143.70" x2="338.36" y2="216.00" stroke="#5a5a5a" stroke-width="1.0" stroke-dasharray="1.8,2.2" stroke-dashoffset="-2.1"/>
<clipPath id="cb3"><rect x="267.00" y="136.30" width="98.20" height="79.70"/></clipPath>
<g clip-path="url(#cb3)">
<path d="M267.00,181.63 C270.60,181.37 280.31,181.20 288.60,180.06 C296.90,178.92 308.46,176.91 316.75,174.81 C325.05,172.72 332.90,169.13 338.36,167.47 C343.81,165.81 345.01,166.11 349.49,164.84 C353.96,163.58 362.58,160.69 365.20,159.86" fill="none" stroke="#8a2222" stroke-width="1.15" stroke-linejoin="round"/>
<path d="M267.00,179.80 C270.60,179.19 282.06,176.87 288.60,176.13 C295.15,175.38 301.59,176.04 306.28,175.34 C310.97,174.64 311.41,173.81 316.75,171.93 C322.10,170.05 332.90,166.07 338.36,164.06 C343.81,162.05 346.16,160.87 349.49,159.86 C352.82,158.86 355.71,158.64 358.33,158.02 C360.94,157.41 364.05,156.49 365.20,156.19" fill="none" stroke="#ad63ff" stroke-width="1.15" stroke-linejoin="round"/>
<path d="M267.00,186.88 C270.60,186.62 282.06,186.18 288.60,185.31 C295.15,184.43 302.73,181.94 306.28,181.63 C309.83,181.33 308.13,183.34 309.88,183.47 C311.63,183.60 312.01,183.78 316.75,182.42 C321.50,181.07 332.90,176.96 338.36,175.34 C343.81,173.72 345.83,173.81 349.49,172.72 C353.14,171.62 357.67,169.87 360.29,168.78 C362.91,167.69 364.38,166.59 365.20,166.16" fill="none" stroke="#ff3cff" stroke-width="1.15" stroke-linejoin="round"/>
<path d="M267.00,205.77 C270.60,205.64 280.31,205.55 288.60,204.98 C296.90,204.41 308.46,203.23 316.75,202.36 C325.05,201.48 332.90,200.48 338.36,199.74 C343.81,198.99 346.49,198.60 349.49,197.90 C352.49,197.20 353.74,196.15 356.36,195.54 C358.98,194.93 363.73,194.44 365.20,194.23" fill="none" stroke="#ff3b3b" stroke-width="1.15" stroke-linejoin="round"/>
<path d="M267.00,201.31 C270.60,201.00 280.31,200.48 288.60,199.47 C296.90,198.47 308.46,196.81 316.75,195.28 C325.05,193.75 333.89,191.30 338.36,190.29 C342.83,189.29 341.74,189.20 343.60,189.24 C345.45,189.29 347.63,190.25 349.49,190.55 C351.34,190.86 352.92,191.21 354.73,191.08 C356.53,190.95 358.54,190.73 360.29,189.77 C362.04,188.80 364.38,186.05 365.20,185.31" fill="none" stroke="#3ef03e" stroke-width="1.15" stroke-linejoin="round"/>
<path d="M267.00,176.13 C270.60,175.56 282.06,173.63 288.60,172.72 C295.15,171.80 301.59,171.71 306.28,170.62 C310.97,169.52 311.41,168.26 316.75,166.16 C322.10,164.06 332.90,160.25 338.36,158.02 C343.81,155.79 346.49,153.91 349.49,152.78 C352.49,151.64 353.74,151.29 356.36,151.20 C358.98,151.12 363.73,152.08 365.20,152.25" fill="none" stroke="#ff8a2a" stroke-width="1.15" stroke-linejoin="round"/>
<path d="M267.00,200.78 C270.60,200.48 280.31,199.87 288.60,198.95 C296.90,198.03 308.46,196.72 316.75,195.28 C325.05,193.83 332.90,191.95 338.36,190.29 C343.81,188.63 345.01,187.14 349.49,185.31 C353.96,183.47 362.58,180.28 365.20,179.27" fill="none" stroke="#3c3cff" stroke-width="1.15" stroke-linejoin="round"/>
<path d="M267.00,192.13 C268.96,191.56 275.18,189.02 278.78,188.72 C282.38,188.41 285.77,189.72 288.60,190.29 C291.44,190.86 292.86,192.39 295.81,192.13 C298.75,191.87 303.06,189.85 306.28,188.72 C309.50,187.58 309.94,187.54 315.12,185.31 C320.30,183.08 331.65,177.57 337.38,175.34 C343.11,173.11 345.67,173.24 349.49,171.93 C353.31,170.62 357.67,168.78 360.29,167.47 C362.91,166.16 364.38,164.63 365.20,164.06" fill="none" stroke="#3ef5f5" stroke-width="1.15" stroke-linejoin="round"/>
</g>
<rect x="267.00" y="137.30" width="98.20" height="78.70" fill="none" stroke="#858585" stroke-width="1.0"/>
<rect x="266.70" y="136.90" width="98.80" height="6.800000000000001" fill="url(#spec)"/>
<text transform="translate(269.50,142.40) scale(0.8,1)" font-size="5.8" fill="#400" stroke="#400" stroke-width="0.12">IR-light</text>
<text transform="translate(299.41,142.40) scale(0.8,1)" font-size="5.8" fill="#000" stroke="#000" stroke-width="0.12">Visible light</text>
<text transform="translate(342.61,142.40) scale(0.8,1)" font-size="5.8" fill="#000" stroke="#000" stroke-width="0.12">UV light</text>
<line x1="267.00" y1="216.00" x2="267.00" y2="214.00" stroke="#555" stroke-width="0.8"/>
<line x1="283.37" y1="216.00" x2="283.37" y2="214.80" stroke="#555" stroke-width="0.8"/>
<line x1="299.73" y1="216.00" x2="299.73" y2="214.00" stroke="#555" stroke-width="0.8"/>
<line x1="316.10" y1="216.00" x2="316.10" y2="214.80" stroke="#555" stroke-width="0.8"/>
<line x1="332.47" y1="216.00" x2="332.47" y2="214.00" stroke="#555" stroke-width="0.8"/>
<line x1="348.83" y1="216.00" x2="348.83" y2="214.80" stroke="#555" stroke-width="0.8"/>
<line x1="365.20" y1="216.00" x2="365.20" y2="214.00" stroke="#555" stroke-width="0.8"/>
<line x1="267.00" y1="216.00" x2="269.00" y2="216.00" stroke="#555" stroke-width="0.8"/>
<text x="264.80" y="218.93" font-size="7.5" text-anchor="end" fill="#1a1a1a" stroke="#1a1a1a" stroke-width="0.1">0.0</text>
<line x1="267.00" y1="202.88" x2="268.20" y2="202.88" stroke="#555" stroke-width="0.8"/>
<line x1="267.00" y1="189.77" x2="269.00" y2="189.77" stroke="#555" stroke-width="0.8"/>
<text x="264.80" y="192.69" font-size="7.5" text-anchor="end" fill="#1a1a1a" stroke="#1a1a1a" stroke-width="0.1">0.1</text>
<line x1="267.00" y1="176.65" x2="268.20" y2="176.65" stroke="#555" stroke-width="0.8"/>
<line x1="267.00" y1="163.53" x2="269.00" y2="163.53" stroke="#555" stroke-width="0.8"/>
<text x="264.80" y="166.46" font-size="7.5" text-anchor="end" fill="#1a1a1a" stroke="#1a1a1a" stroke-width="0.1">0.2</text>
<line x1="267.00" y1="150.42" x2="268.20" y2="150.42" stroke="#555" stroke-width="0.8"/>
<line x1="267.00" y1="137.30" x2="269.00" y2="137.30" stroke="#555" stroke-width="0.8"/>
<text x="264.80" y="140.23" font-size="7.5" text-anchor="end" fill="#1a1a1a" stroke="#1a1a1a" stroke-width="0.1">0.3</text>
<text x="267.00" y="225.00" font-size="7.2" text-anchor="middle" fill="#1a1a1a" stroke="#1a1a1a" stroke-width="0.1">1</text>
<text x="299.73" y="225.00" font-size="7.2" text-anchor="middle" fill="#1a1a1a" stroke="#1a1a1a" stroke-width="0.1">2</text>
<text x="332.47" y="225.00" font-size="7.2" text-anchor="middle" fill="#1a1a1a" stroke="#1a1a1a" stroke-width="0.1">3</text>
<text x="365.20" y="225.00" font-size="7.2" text-anchor="middle" fill="#1a1a1a" stroke="#1a1a1a" stroke-width="0.1">4</text>
<text x="319.85" y="232.40" font-size="8.2" text-anchor="middle" fill="#111" stroke="#111" stroke-width="0.18">Photon enegry (eV)</text>
<text transform="translate(252.70,177.55) rotate(-90)" font-size="9.5" text-anchor="middle" fill="#111"><tspan font-style="italic">R</tspan><tspan dx="0.9">(ω)</tspan></text>
<line x1="412.00" y1="140.00" x2="412.00" y2="212.80" stroke="#5a5a5a" stroke-width="1.0" stroke-dasharray="1.8,2.2" stroke-dashoffset="-2.1"/>
<line x1="462.13" y1="140.00" x2="462.13" y2="212.80" stroke="#5a5a5a" stroke-width="1.0" stroke-dasharray="1.8,2.2" stroke-dashoffset="-2.1"/>
<clipPath id="cb4"><rect x="390.70" y="132.60" width="98.30" height="80.20"/></clipPath>
<g clip-path="url(#cb4)">
<path d="M390.70,212.80 C394.52,212.67 408.18,212.54 413.64,212.01 C419.10,211.48 419.26,211.15 423.47,209.63 C427.67,208.11 433.41,205.43 438.87,202.90 C444.33,200.37 451.05,197.57 456.23,194.43 C461.42,191.28 466.01,187.22 470.00,184.05 C473.98,180.88 477.53,177.29 480.15,175.42 C482.77,173.54 484.25,173.57 485.72,172.80 C487.20,172.04 488.45,171.15 489.00,170.82" fill="none" stroke="#8a2222" stroke-width="1.15" stroke-linejoin="round"/>
<path d="M390.70,212.80 C392.34,212.54 396.87,212.14 400.53,211.22 C404.19,210.29 408.83,208.44 412.65,207.26 C416.48,206.07 419.10,204.95 423.47,204.09 C427.84,203.23 433.41,204.30 438.87,202.11 C444.33,199.92 451.92,194.53 456.23,190.94 C460.55,187.35 462.30,183.72 464.75,180.57 C467.21,177.41 468.96,174.60 470.98,172.01 C473.00,169.42 474.75,167.64 476.88,165.04 C479.01,162.44 481.74,159.01 483.76,156.41 C485.78,153.81 488.13,150.60 489.00,149.44" fill="none" stroke="#ad63ff" stroke-width="1.15" stroke-linejoin="round"/>
<path d="M390.70,212.80 C395.07,212.67 411.18,212.80 416.91,212.01 C422.65,211.22 422.10,209.01 425.10,208.05 C428.11,207.08 432.26,206.16 434.94,206.23 C437.61,206.29 439.47,208.27 441.16,208.44 C442.85,208.62 443.67,208.17 445.09,207.26 C446.51,206.35 447.82,203.57 449.68,202.98 C451.54,202.39 454.21,203.90 456.23,203.69 C458.25,203.48 459.51,203.55 461.80,201.71 C464.10,199.88 467.21,194.90 470.00,192.68 C472.78,190.47 476.22,190.20 478.51,188.41 C480.81,186.61 482.45,184.08 483.76,181.91 C485.07,179.75 485.50,176.65 486.38,175.42 C487.25,174.19 488.56,174.69 489.00,174.55" fill="none" stroke="#ff3cff" stroke-width="1.15" stroke-linejoin="round"/>
<path d="M390.70,212.80 C397.25,212.67 421.99,212.64 430.02,212.01 C438.05,211.37 433.62,209.94 438.87,209.00 C444.11,208.06 456.29,207.40 461.48,206.38 C466.66,205.37 467.16,204.05 470.00,202.90 C472.84,201.75 475.35,201.49 478.51,199.49 C481.68,197.50 487.25,192.37 489.00,190.94" fill="none" stroke="#ff3b3b" stroke-width="1.15" stroke-linejoin="round"/>
<path d="M390.70,212.80 C393.43,212.54 401.62,212.14 407.08,211.22 C412.54,210.29 418.17,208.92 423.47,207.26 C428.76,205.59 433.41,203.67 438.87,201.24 C444.33,198.81 451.92,195.26 456.23,192.68 C460.55,190.11 462.30,187.65 464.75,185.79 C467.21,183.93 468.96,182.10 470.98,181.52 C473.00,180.94 474.91,182.11 476.88,182.31 C478.84,182.51 481.19,183.27 482.77,182.70 C484.36,182.14 485.34,180.26 486.38,178.90 C487.42,177.54 488.56,175.27 489.00,174.55" fill="none" stroke="#3ef03e" stroke-width="1.15" stroke-linejoin="round"/>
<path d="M390.70,212.80 C393.43,212.67 403.42,212.40 407.08,212.01 C410.74,211.61 409.92,211.64 412.65,210.42 C415.38,209.21 419.75,206.11 423.47,204.72 C427.18,203.34 432.10,202.94 434.94,202.11 C437.77,201.28 438.81,200.72 440.51,199.73 C442.20,198.74 442.69,198.61 445.09,196.17 C447.50,193.73 451.92,188.91 454.92,185.08 C457.93,181.25 460.60,177.09 463.11,173.20 C465.63,169.31 467.70,165.41 470.00,161.72 C472.29,158.02 474.58,154.52 476.88,151.02 C479.17,147.53 482.12,143.24 483.76,140.73 C485.40,138.22 486.05,137.16 486.71,135.98 C487.36,134.79 487.53,134.00 487.69,133.60" fill="none" stroke="#ff8a2a" stroke-width="1.15" stroke-linejoin="round"/>
<path d="M390.70,212.80 C396.16,212.54 415.44,212.29 423.47,211.22 C431.49,210.15 432.53,207.63 438.87,206.38 C445.20,205.14 456.29,205.49 461.48,203.77 C466.66,202.06 467.16,198.23 470.00,196.09 C472.84,193.95 475.35,193.67 478.51,190.94 C481.68,188.21 487.25,181.57 489.00,179.69" fill="none" stroke="#3c3cff" stroke-width="1.15" stroke-linejoin="round"/>
<path d="M390.70,212.01 C392.72,210.95 399.16,207.89 402.82,205.67 C406.48,203.45 410.09,199.76 412.65,198.70 C415.22,197.65 416.42,198.70 418.22,199.34 C420.03,199.97 421.50,201.91 423.47,202.50 C425.43,203.10 428.11,203.03 430.02,202.90 C431.93,202.77 433.46,202.24 434.94,201.71 C436.41,201.18 437.17,200.81 438.87,199.73 C440.56,198.65 442.42,197.79 445.09,195.22 C447.77,192.64 452.03,187.83 454.92,184.29 C457.82,180.75 459.95,177.82 462.46,173.99 C464.97,170.16 467.59,165.24 470.00,161.32 C472.40,157.40 474.58,153.99 476.88,150.47 C479.17,146.95 482.28,142.46 483.76,140.17 C485.23,137.89 485.18,137.86 485.72,136.77 C486.27,135.67 486.82,134.13 487.03,133.60" fill="none" stroke="#3ef5f5" stroke-width="1.15" stroke-linejoin="round"/>
</g>
<rect x="390.70" y="133.60" width="98.30" height="79.20" fill="none" stroke="#858585" stroke-width="1.0"/>
<rect x="390.40" y="133.20" width="98.90" height="6.800000000000001" fill="url(#spec)"/>
<text transform="translate(393.20,138.70) scale(0.8,1)" font-size="5.8" fill="#400" stroke="#400" stroke-width="0.12">IR-light</text>
<text transform="translate(423.14,138.70) scale(0.8,1)" font-size="5.8" fill="#000" stroke="#000" stroke-width="0.12">Visible light</text>
<text transform="translate(466.39,138.70) scale(0.8,1)" font-size="5.8" fill="#000" stroke="#000" stroke-width="0.12">UV light</text>
<line x1="390.70" y1="212.80" x2="390.70" y2="210.80" stroke="#555" stroke-width="0.8"/>
<line x1="407.08" y1="212.80" x2="407.08" y2="211.60" stroke="#555" stroke-width="0.8"/>
<line x1="423.47" y1="212.80" x2="423.47" y2="210.80" stroke="#555" stroke-width="0.8"/>
<line x1="439.85" y1="212.80" x2="439.85" y2="211.60" stroke="#555" stroke-width="0.8"/>
<line x1="456.23" y1="212.80" x2="456.23" y2="210.80" stroke="#555" stroke-width="0.8"/>
<line x1="472.62" y1="212.80" x2="472.62" y2="211.60" stroke="#555" stroke-width="0.8"/>
<line x1="489.00" y1="212.80" x2="489.00" y2="210.80" stroke="#555" stroke-width="0.8"/>
<line x1="390.70" y1="212.80" x2="392.70" y2="212.80" stroke="#555" stroke-width="0.8"/>
<text x="388.50" y="215.73" font-size="7.5" text-anchor="end" fill="#1a1a1a" stroke="#1a1a1a" stroke-width="0.1">0.0</text>
<line x1="390.70" y1="204.88" x2="391.90" y2="204.88" stroke="#555" stroke-width="0.8"/>
<line x1="390.70" y1="196.96" x2="392.70" y2="196.96" stroke="#555" stroke-width="0.8"/>
<text x="388.50" y="199.89" font-size="7.5" text-anchor="end" fill="#1a1a1a" stroke="#1a1a1a" stroke-width="0.1">0.2</text>
<line x1="390.70" y1="189.04" x2="391.90" y2="189.04" stroke="#555" stroke-width="0.8"/>
<line x1="390.70" y1="181.12" x2="392.70" y2="181.12" stroke="#555" stroke-width="0.8"/>
<text x="388.50" y="184.05" font-size="7.5" text-anchor="end" fill="#1a1a1a" stroke="#1a1a1a" stroke-width="0.1">0.4</text>
<line x1="390.70" y1="173.20" x2="391.90" y2="173.20" stroke="#555" stroke-width="0.8"/>
<line x1="390.70" y1="165.28" x2="392.70" y2="165.28" stroke="#555" stroke-width="0.8"/>
<text x="388.50" y="168.21" font-size="7.5" text-anchor="end" fill="#1a1a1a" stroke="#1a1a1a" stroke-width="0.1">0.6</text>
<line x1="390.70" y1="157.36" x2="391.90" y2="157.36" stroke="#555" stroke-width="0.8"/>
<line x1="390.70" y1="149.44" x2="392.70" y2="149.44" stroke="#555" stroke-width="0.8"/>
<text x="388.50" y="152.37" font-size="7.5" text-anchor="end" fill="#1a1a1a" stroke="#1a1a1a" stroke-width="0.1">0.8</text>
<line x1="390.70" y1="141.52" x2="391.90" y2="141.52" stroke="#555" stroke-width="0.8"/>
<line x1="390.70" y1="133.60" x2="392.70" y2="133.60" stroke="#555" stroke-width="0.8"/>
<text x="388.50" y="136.53" font-size="7.5" text-anchor="end" fill="#1a1a1a" stroke="#1a1a1a" stroke-width="0.1">1.0</text>
<text x="390.70" y="221.80" font-size="7.2" text-anchor="middle" fill="#1a1a1a" stroke="#1a1a1a" stroke-width="0.1">1</text>
<text x="423.47" y="221.80" font-size="7.2" text-anchor="middle" fill="#1a1a1a" stroke="#1a1a1a" stroke-width="0.1">2</text>
<text x="456.23" y="221.80" font-size="7.2" text-anchor="middle" fill="#1a1a1a" stroke="#1a1a1a" stroke-width="0.1">3</text>
<text x="489.00" y="221.80" font-size="7.2" text-anchor="middle" fill="#1a1a1a" stroke="#1a1a1a" stroke-width="0.1">4</text>
<text x="442.60" y="229.20" font-size="8.2" text-anchor="middle" fill="#111" stroke="#111" stroke-width="0.18">Photon enegry (eV)</text>
<text transform="translate(376.40,173.80) rotate(-90)" font-size="9.5" text-anchor="middle" fill="#111"><tspan font-style="italic">k</tspan><tspan dx="0.9">(ω)</tspan></text>
<line x1="534.72" y1="141.50" x2="534.72" y2="214.00" stroke="#5a5a5a" stroke-width="1.0" stroke-dasharray="1.8,2.2" stroke-dashoffset="-2.1"/>
<line x1="584.90" y1="141.50" x2="584.90" y2="214.00" stroke="#5a5a5a" stroke-width="1.0" stroke-dasharray="1.8,2.2" stroke-dashoffset="-2.1"/>
<clipPath id="cb5"><rect x="513.40" y="134.10" width="98.40" height="79.90"/></clipPath>
<g clip-path="url(#cb5)">
<path d="M513.40,214.00 C517.77,213.67 531.88,213.34 539.64,212.03 C547.40,210.71 552.43,208.41 559.98,206.11 C567.52,203.81 577.74,200.52 584.90,198.22 C592.07,195.92 598.46,193.62 602.94,192.30 C607.43,190.99 610.32,190.66 611.80,190.33" fill="none" stroke="#8a2222" stroke-width="1.15" stroke-linejoin="round"/>
<path d="M513.40,214.00 C517.77,213.67 531.88,213.61 539.64,212.03 C547.40,210.45 552.43,206.96 559.98,204.53 C567.52,202.10 577.74,200.72 584.90,197.43 C592.07,194.14 598.46,187.31 602.94,184.81 C607.43,182.31 610.32,182.83 611.80,182.44" fill="none" stroke="#ad63ff" stroke-width="1.15" stroke-linejoin="round"/>
<path d="M513.40,214.00 C518.87,213.80 538.44,213.67 546.20,212.82 C553.96,211.96 553.53,210.25 559.98,208.87 C566.43,207.49 579.16,205.91 584.90,204.53 C590.64,203.15 591.41,201.84 594.42,200.59 C597.42,199.34 600.05,199.07 602.94,197.04 C605.84,195.00 610.32,189.80 611.80,188.36" fill="none" stroke="#ff3cff" stroke-width="1.15" stroke-linejoin="round"/>
<path d="M513.40,214.00 C517.77,213.67 534.17,213.34 539.64,212.03 C545.11,210.71 542.81,206.96 546.20,206.11 C549.59,205.26 554.51,207.89 559.98,206.90 C565.44,205.91 574.85,201.97 579.00,200.19 C583.15,198.42 582.06,197.89 584.90,196.25 C587.75,194.60 593.05,192.30 596.06,190.33 C599.06,188.36 600.32,187.17 602.94,184.41 C605.57,181.65 610.32,175.54 611.80,173.76" fill="none" stroke="#ff3b3b" stroke-width="1.15" stroke-linejoin="round"/>
<path d="M513.40,214.00 C516.02,213.61 525.10,212.75 529.14,211.63 C533.19,210.52 534.83,208.41 537.67,207.29 C540.51,206.18 543.36,206.11 546.20,204.93 C549.04,203.74 552.43,201.84 554.73,200.19 C557.02,198.55 557.95,196.77 559.98,195.06 C562.00,193.35 564.73,190.79 566.86,189.94 C569.00,189.08 571.07,190.46 572.77,189.94 C574.46,189.41 575.01,188.62 577.03,186.78 C579.05,184.94 582.61,181.45 584.90,178.89 C587.20,176.33 588.95,173.83 590.81,171.39 C592.67,168.96 594.31,165.34 596.06,164.29 C597.81,163.24 599.55,164.49 601.30,165.08 C603.05,165.67 604.80,167.91 606.55,167.84 C608.30,167.78 610.93,165.21 611.80,164.69" fill="none" stroke="#3ef03e" stroke-width="1.15" stroke-linejoin="round"/>
<path d="M513.40,214.00 C517.23,213.67 530.89,213.01 536.36,212.03 C541.83,211.04 542.26,209.59 546.20,208.08 C550.14,206.57 553.53,205.12 559.98,202.95 C566.43,200.78 578.89,197.63 584.90,195.06 C590.92,192.50 593.05,189.80 596.06,187.57 C599.06,185.33 600.32,183.82 602.94,181.65 C605.57,179.48 610.32,175.73 611.80,174.55" fill="none" stroke="#ff8a2a" stroke-width="1.15" stroke-linejoin="round"/>
<path d="M513.40,214.00 C518.87,213.67 539.09,213.01 546.20,212.03 C553.31,211.04 553.74,209.73 556.04,208.08 C558.34,206.44 557.63,203.02 559.98,202.16 C562.33,201.31 565.99,203.68 570.14,202.95 C574.30,202.23 580.59,199.86 584.90,197.83 C589.22,195.79 593.05,192.63 596.06,190.72 C599.06,188.82 600.32,188.36 602.94,186.38 C605.57,184.41 610.32,180.14 611.80,178.89" fill="none" stroke="#3c3cff" stroke-width="1.15" stroke-linejoin="round"/>
<path d="M513.40,212.82 C514.88,212.22 519.63,211.50 522.26,209.27 C524.88,207.03 526.68,202.03 529.14,199.40 C531.60,196.77 534.83,193.81 537.02,193.49 C539.20,193.16 540.73,196.12 542.26,197.43 C543.79,198.75 544.45,200.72 546.20,201.38 C547.95,202.03 550.46,201.64 552.76,201.38 C555.06,201.11 558.17,200.39 559.98,199.80 C561.78,199.21 561.29,199.01 563.58,197.83 C565.88,196.64 570.20,195.59 573.75,192.70 C577.31,189.80 581.73,184.15 584.90,180.47 C588.07,176.79 591.19,172.97 592.78,170.61 C594.36,168.24 592.99,168.04 594.42,166.27 C595.84,164.49 599.01,162.25 601.30,159.95 C603.60,157.65 606.44,154.76 608.19,152.46 C609.94,150.16 611.20,147.20 611.80,146.15" fill="none" stroke="#3ef5f5" stroke-width="1.15" stroke-linejoin="round"/>
</g>
<rect x="513.40" y="135.10" width="98.40" height="78.90" fill="none" stroke="#858585" stroke-width="1.0"/>
<rect x="513.10" y="134.70" width="99.00" height="6.800000000000001" fill="url(#spec)"/>
<text transform="translate(515.90,140.20) scale(0.8,1)" font-size="5.8" fill="#400" stroke="#400" stroke-width="0.12">IR-light</text>
<text transform="translate(545.87,140.20) scale(0.8,1)" font-size="5.8" fill="#000" stroke="#000" stroke-width="0.12">Visible light</text>
<text transform="translate(589.17,140.20) scale(0.8,1)" font-size="5.8" fill="#000" stroke="#000" stroke-width="0.12">UV light</text>
<line x1="513.40" y1="214.00" x2="513.40" y2="212.00" stroke="#555" stroke-width="0.8"/>
<line x1="529.80" y1="214.00" x2="529.80" y2="212.80" stroke="#555" stroke-width="0.8"/>
<line x1="546.20" y1="214.00" x2="546.20" y2="212.00" stroke="#555" stroke-width="0.8"/>
<line x1="562.60" y1="214.00" x2="562.60" y2="212.80" stroke="#555" stroke-width="0.8"/>
<line x1="579.00" y1="214.00" x2="579.00" y2="212.00" stroke="#555" stroke-width="0.8"/>
<line x1="595.40" y1="214.00" x2="595.40" y2="212.80" stroke="#555" stroke-width="0.8"/>
<line x1="611.80" y1="214.00" x2="611.80" y2="212.00" stroke="#555" stroke-width="0.8"/>
<line x1="513.40" y1="214.00" x2="515.40" y2="214.00" stroke="#555" stroke-width="0.8"/>
<text x="511.20" y="216.93" font-size="7.5" text-anchor="end" fill="#1a1a1a" stroke="#1a1a1a" stroke-width="0.1">0.0</text>
<line x1="513.40" y1="194.28" x2="514.60" y2="194.28" stroke="#555" stroke-width="0.8"/>
<line x1="513.40" y1="174.55" x2="515.40" y2="174.55" stroke="#555" stroke-width="0.8"/>
<text x="511.20" y="177.48" font-size="7.5" text-anchor="end" fill="#1a1a1a" stroke="#1a1a1a" stroke-width="0.1">0.1</text>
<line x1="513.40" y1="154.83" x2="514.60" y2="154.83" stroke="#555" stroke-width="0.8"/>
<line x1="513.40" y1="135.10" x2="515.40" y2="135.10" stroke="#555" stroke-width="0.8"/>
<text x="511.20" y="138.03" font-size="7.5" text-anchor="end" fill="#1a1a1a" stroke="#1a1a1a" stroke-width="0.1">0.2</text>
<text x="513.40" y="223.00" font-size="7.2" text-anchor="middle" fill="#1a1a1a" stroke="#1a1a1a" stroke-width="0.1">1</text>
<text x="546.20" y="223.00" font-size="7.2" text-anchor="middle" fill="#1a1a1a" stroke="#1a1a1a" stroke-width="0.1">2</text>
<text x="579.00" y="223.00" font-size="7.2" text-anchor="middle" fill="#1a1a1a" stroke="#1a1a1a" stroke-width="0.1">3</text>
<text x="611.80" y="223.00" font-size="7.2" text-anchor="middle" fill="#1a1a1a" stroke="#1a1a1a" stroke-width="0.1">4</text>
<text x="565.85" y="230.40" font-size="8.2" text-anchor="middle" fill="#111" stroke="#111" stroke-width="0.18">Photon enegry (eV)</text>
<text transform="translate(499.10,175.15) rotate(-90)" font-size="9.5" text-anchor="middle" fill="#111"><tspan font-style="italic">L</tspan><tspan dx="0.9">(ω)</tspan></text>
<line x1="31.10" y1="26.80" x2="42.50" y2="26.80" stroke="#ff3b3b" stroke-width="1.3"/>
<text transform="translate(43.30,29.00) scale(0.74,1)" font-size="6.3" fill="#111" stroke="#111" stroke-width="0.1">α-In<tspan font-size="4.4" dy="1.3">2</tspan><tspan dy="-1.3">S<tspan font-size="4.4" dy="1.3">3</tspan><tspan dy="-1.3"></tspan></tspan></text>
<line x1="31.10" y1="34.30" x2="42.50" y2="34.30" stroke="#3ef03e" stroke-width="1.3"/>
<text transform="translate(43.30,36.50) scale(0.74,1)" font-size="6.3" fill="#111" stroke="#111" stroke-width="0.1">α-In<tspan font-size="4.4" dy="1.3">2</tspan><tspan dy="-1.3">Se<tspan font-size="4.4" dy="1.3">3</tspan><tspan dy="-1.3"></tspan></tspan></text>
<line x1="31.10" y1="41.80" x2="42.50" y2="41.80" stroke="#3c3cff" stroke-width="1.3"/>
<text transform="translate(43.30,44.00) scale(0.74,1)" font-size="6.3" fill="#111" stroke="#111" stroke-width="0.1">β-In<tspan font-size="4.4" dy="1.3">2</tspan><tspan dy="-1.3">S<tspan font-size="4.4" dy="1.3">3</tspan><tspan dy="-1.3"></tspan></tspan></text>
<line x1="31.10" y1="49.30" x2="42.50" y2="49.30" stroke="#3ef5f5" stroke-width="1.3"/>
<text transform="translate(43.30,51.50) scale(0.74,1)" font-size="6.3" fill="#111" stroke="#111" stroke-width="0.1">β-In<tspan font-size="4.4" dy="1.3">2</tspan><tspan dy="-1.3">Se<tspan font-size="4.4" dy="1.3">3</tspan><tspan dy="-1.3"></tspan></tspan></text>
<line x1="31.10" y1="56.80" x2="42.50" y2="56.80" stroke="#ff3cff" stroke-width="1.3"/>
<text transform="translate(43.30,59.00) scale(0.74,1)" font-size="6.3" fill="#111" stroke="#111" stroke-width="0.1">β-In<tspan font-size="4.4" dy="1.3">2</tspan><tspan dy="-1.3">S<tspan font-size="4.4" dy="1.3">3</tspan><tspan dy="-1.3">/α-In<tspan font-size="4.4" dy="1.3">2</tspan><tspan dy="-1.3">S<tspan font-size="4.4" dy="1.3">3</tspan><tspan dy="-1.3">⊥</tspan></tspan></tspan></tspan></text>
<line x1="31.10" y1="64.30" x2="42.50" y2="64.30" stroke="#ff8a2a" stroke-width="1.3"/>
<text transform="translate(43.30,66.50) scale(0.74,1)" font-size="6.3" fill="#111" stroke="#111" stroke-width="0.1">β-In<tspan font-size="4.4" dy="1.3">2</tspan><tspan dy="-1.3">Se<tspan font-size="4.4" dy="1.3">3</tspan><tspan dy="-1.3">/α-In<tspan font-size="4.4" dy="1.3">2</tspan><tspan dy="-1.3">Se<tspan font-size="4.4" dy="1.3">3</tspan><tspan dy="-1.3">⊥</tspan></tspan></tspan></tspan></text>
<line x1="31.10" y1="71.80" x2="42.50" y2="71.80" stroke="#ad63ff" stroke-width="1.3"/>
<text transform="translate(43.30,74.00) scale(0.74,1)" font-size="6.3" fill="#111" stroke="#111" stroke-width="0.1">β-In<tspan font-size="4.4" dy="1.3">2</tspan><tspan dy="-1.3">Se<tspan font-size="4.4" dy="1.3">3</tspan><tspan dy="-1.3">/α-In<tspan font-size="4.4" dy="1.3">2</tspan><tspan dy="-1.3">S<tspan font-size="4.4" dy="1.3">3</tspan><tspan dy="-1.3">⊥</tspan></tspan></tspan></tspan></text>
<line x1="31.10" y1="79.30" x2="42.50" y2="79.30" stroke="#8a2222" stroke-width="1.3"/>
<text transform="translate(43.30,81.50) scale(0.74,1)" font-size="6.3" fill="#111" stroke="#111" stroke-width="0.1">β-In<tspan font-size="4.4" dy="1.3">2</tspan><tspan dy="-1.3">S<tspan font-size="4.4" dy="1.3">3</tspan><tspan dy="-1.3">/α-In<tspan font-size="4.4" dy="1.3">2</tspan><tspan dy="-1.3">Se<tspan font-size="4.4" dy="1.3">3</tspan><tspan dy="-1.3">⊥</tspan></tspan></tspan></tspan></text>
<line x1="31.00" y1="144.20" x2="42.40" y2="144.20" stroke="#ff3b3b" stroke-width="1.3"/>
<text transform="translate(43.20,146.40) scale(0.74,1)" font-size="6.3" fill="#111" stroke="#111" stroke-width="0.1">α-In<tspan font-size="4.4" dy="1.3">2</tspan><tspan dy="-1.3">S<tspan font-size="4.4" dy="1.3">3</tspan><tspan dy="-1.3"></tspan></tspan></text>
<line x1="31.00" y1="151.75" x2="42.40" y2="151.75" stroke="#3ef03e" stroke-width="1.3"/>
<text transform="translate(43.20,153.95) scale(0.74,1)" font-size="6.3" fill="#111" stroke="#111" stroke-width="0.1">α-In<tspan font-size="4.4" dy="1.3">2</tspan><tspan dy="-1.3">Se<tspan font-size="4.4" dy="1.3">3</tspan><tspan dy="-1.3"></tspan></tspan></text>
<line x1="31.00" y1="159.30" x2="42.40" y2="159.30" stroke="#3c3cff" stroke-width="1.3"/>
<text transform="translate(43.20,161.50) scale(0.74,1)" font-size="6.3" fill="#111" stroke="#111" stroke-width="0.1">β-In<tspan font-size="4.4" dy="1.3">2</tspan><tspan dy="-1.3">S<tspan font-size="4.4" dy="1.3">3</tspan><tspan dy="-1.3"></tspan></tspan></text>
<line x1="31.00" y1="166.85" x2="42.40" y2="166.85" stroke="#3ef5f5" stroke-width="1.3"/>
<text transform="translate(43.20,169.05) scale(0.74,1)" font-size="6.3" fill="#111" stroke="#111" stroke-width="0.1">β-In<tspan font-size="4.4" dy="1.3">2</tspan><tspan dy="-1.3">Se<tspan font-size="4.4" dy="1.3">3</tspan><tspan dy="-1.3"></tspan></tspan></text>
<line x1="31.00" y1="174.40" x2="42.40" y2="174.40" stroke="#ff3cff" stroke-width="1.3"/>
<text transform="translate(43.20,176.60) scale(0.74,1)" font-size="6.3" fill="#111" stroke="#111" stroke-width="0.1">β-In<tspan font-size="4.4" dy="1.3">2</tspan><tspan dy="-1.3">S<tspan font-size="4.4" dy="1.3">3</tspan><tspan dy="-1.3">/α-In<tspan font-size="4.4" dy="1.3">2</tspan><tspan dy="-1.3">S<tspan font-size="4.4" dy="1.3">3</tspan><tspan dy="-1.3">↑</tspan></tspan></tspan></tspan></text>
<line x1="31.00" y1="181.95" x2="42.40" y2="181.95" stroke="#ff8a2a" stroke-width="1.3"/>
<text transform="translate(43.20,184.15) scale(0.74,1)" font-size="6.3" fill="#111" stroke="#111" stroke-width="0.1">β-In<tspan font-size="4.4" dy="1.3">2</tspan><tspan dy="-1.3">Se<tspan font-size="4.4" dy="1.3">3</tspan><tspan dy="-1.3">/α-In<tspan font-size="4.4" dy="1.3">2</tspan><tspan dy="-1.3">Se<tspan font-size="4.4" dy="1.3">3</tspan><tspan dy="-1.3">↑</tspan></tspan></tspan></tspan></text>
<line x1="31.00" y1="189.50" x2="42.40" y2="189.50" stroke="#ad63ff" stroke-width="1.3"/>
<text transform="translate(43.20,191.70) scale(0.74,1)" font-size="6.3" fill="#111" stroke="#111" stroke-width="0.1">β-In<tspan font-size="4.4" dy="1.3">2</tspan><tspan dy="-1.3">Se<tspan font-size="4.4" dy="1.3">3</tspan><tspan dy="-1.3">/α-In<tspan font-size="4.4" dy="1.3">2</tspan><tspan dy="-1.3">S<tspan font-size="4.4" dy="1.3">3</tspan><tspan dy="-1.3">↑</tspan></tspan></tspan></tspan></text>
<line x1="31.00" y1="197.05" x2="42.40" y2="197.05" stroke="#8a2222" stroke-width="1.3"/>
<text transform="translate(43.20,199.25) scale(0.74,1)" font-size="6.3" fill="#111" stroke="#111" stroke-width="0.1">β-In<tspan font-size="4.4" dy="1.3">2</tspan><tspan dy="-1.3">S<tspan font-size="4.4" dy="1.3">3</tspan><tspan dy="-1.3">/α-In<tspan font-size="4.4" dy="1.3">2</tspan><tspan dy="-1.3">Se<tspan font-size="4.4" dy="1.3">3</tspan><tspan dy="-1.3">↑</tspan></tspan></tspan></tspan></text>
<text x="1.2" y="11.4" font-size="13.5" fill="#111">(a)</text>
<text x="1.2" y="127.2" font-size="13.5" fill="#111">(b)</text>
</svg></body></html>
